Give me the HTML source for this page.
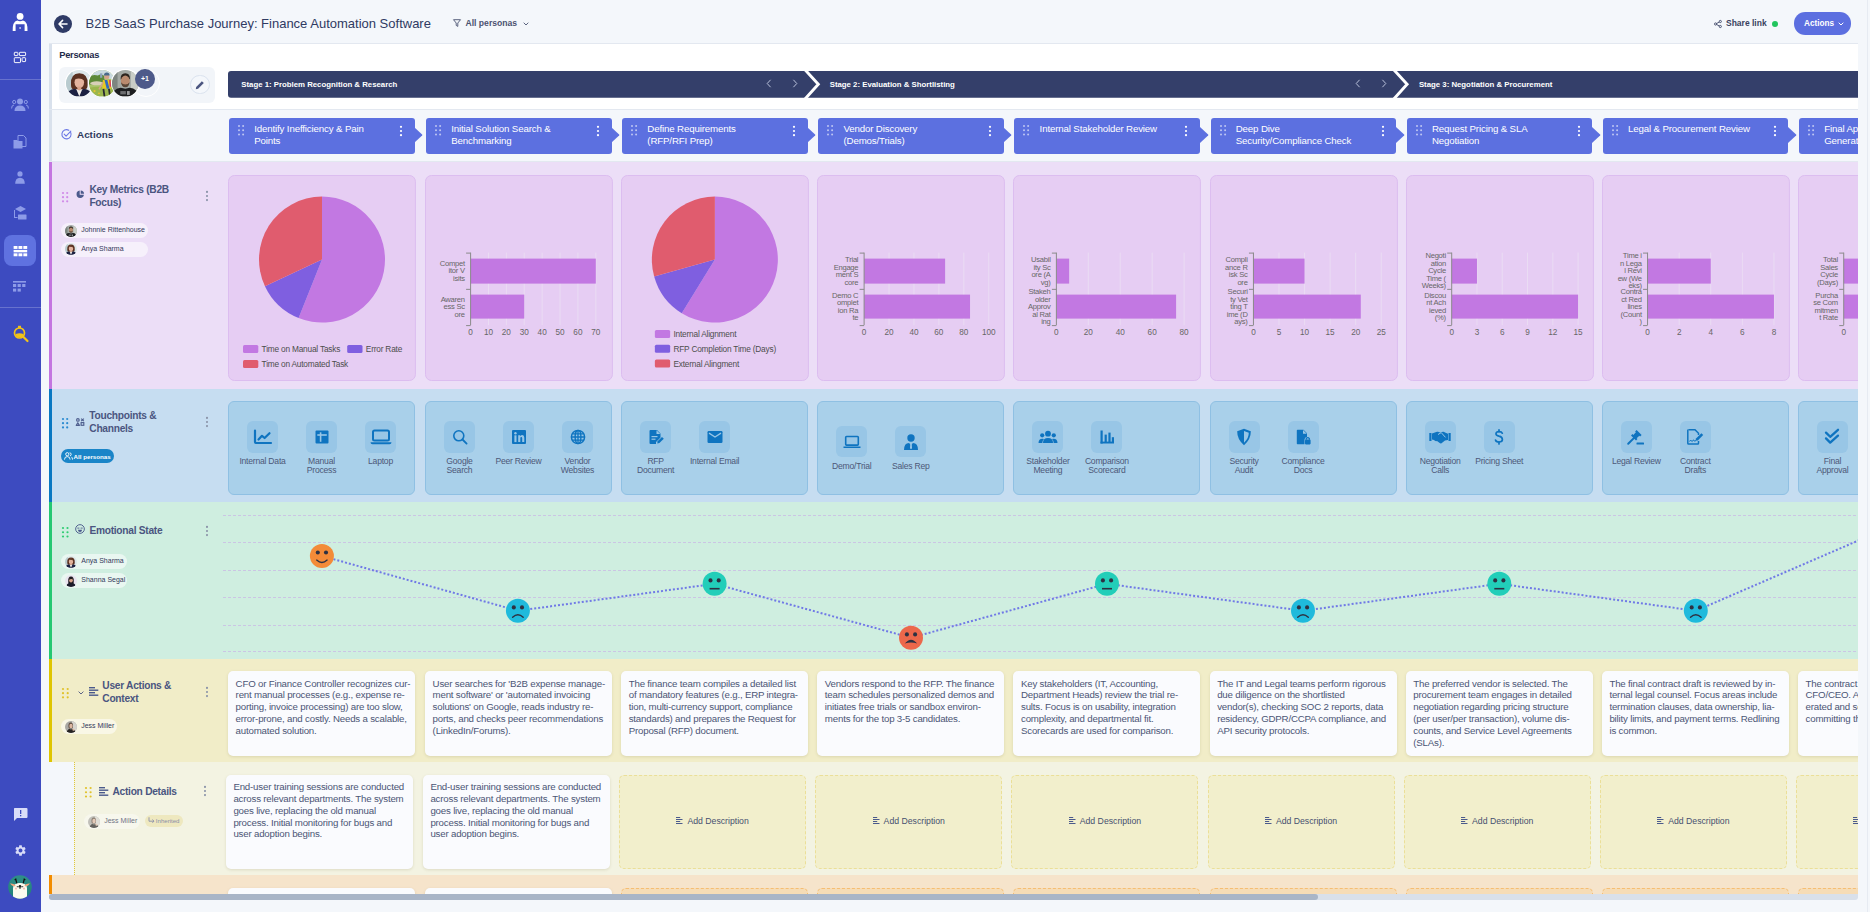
<!DOCTYPE html><html lang="en"><head><meta charset="utf-8"><title>B2B SaaS Purchase Journey</title><style>
*{box-sizing:border-box;margin:0;padding:0}
html,body{width:1870px;height:912px;overflow:hidden;background:#f4f7fb;font-family:"Liberation Sans",sans-serif;color:#3d4668}
.a{position:absolute}
#sb{left:0;top:0;width:41px;height:912px;background:#3d4bc0}
#board{left:0;top:0;width:1858px;height:894px;overflow:hidden}
.row{position:absolute;left:49px;width:1809px}
.acc{position:absolute;left:0;top:0;bottom:0;width:3px}
.t{position:absolute;white-space:nowrap}
svg{position:absolute;overflow:visible}
.ib svg{position:static;display:block}
.ac{position:absolute;top:118px;height:35.8px;width:185.6px;background:#5c70e0;border-radius:3px;color:#fff}
.ac .tt{position:absolute;left:25.2px;top:5px;font-size:9.7px;letter-spacing:-0.14px;line-height:12px;font-weight:500;white-space:nowrap}
.lbl{position:absolute;font-size:10.2px;letter-spacing:-0.27px;font-weight:700;color:#4a5580;line-height:12.8px;white-space:nowrap}
.chip{position:absolute;height:15px;border-radius:8px;background:rgba(255,255,255,.55);font-size:7px;color:#33385a;line-height:13.4px;padding-left:20px;white-space:nowrap}
.card{position:absolute;border-radius:6px}
.tp{position:absolute;width:55px;text-align:center;font-size:8.6px;letter-spacing:-0.23px;line-height:9px;color:#4d5878}
.tp .ib{width:31px;height:31.6px;margin:0 auto 4.4px;border-radius:6px;background:#98c6e6;position:relative}
.txc{position:absolute;background:#fafbfe;border-radius:5px;box-shadow:0 1px 3px rgba(120,110,60,.18);font-size:9.7px;letter-spacing:-0.19px;line-height:11.8px;color:#4b5575;padding:6.6px 0 0 7.6px;white-space:nowrap}
.add{position:absolute;border:1px dashed #ebdf98;background:#f2efcc;border-radius:5px;font-size:8.7px;font-weight:400;color:#46506f;display:flex;align-items:center;justify-content:center;padding-bottom:3px}
</style></head><body>
<div id="sb" class="a"></div>
<svg style="left:0;top:0" width="41" height="70" viewBox="0 0 41 70">
<circle cx="20.1" cy="16.4" r="3.4" fill="#ffffff"/>
<path d="M12.7 31 Q12.4 21.6 17.2 20.6 Q20.1 21.8 23 20.6 Q27.8 21.6 27.5 31 L24.6 31 L24.6 24.2 L15.6 24.2 L15.6 31 Z" fill="#ffffff"/>
<rect x="19.4" y="27.3" width="1.4" height="1.4" fill="#ffffff"/>
<g fill="none" stroke="#ffffff" stroke-width="0.95">
<rect x="14.3" y="52.3" width="3.6" height="3.3" rx="0.6"/><rect x="19.4" y="52.3" width="6.2" height="3.3" rx="0.6"/>
<rect x="14.3" y="57.7" width="6.2" height="4.9" rx="0.6"/><rect x="22.1" y="57.7" width="3.5" height="3.9" rx="0.6"/></g></svg>
<div class="a" style="left:0;top:79px;width:41px;height:1px;background:rgba(255,255,255,.22)"></div>
<svg style="left:11px;top:98px" width="18" height="14" viewBox="0 0 18 14" fill="#8d9be8">
<circle cx="9" cy="3.5" r="3"/><path d="M3.5 13 Q3.5 7.5 9 7.5 Q14.5 7.5 14.5 13 Z"/>
<circle cx="3.2" cy="4" r="1.6" fill="none" stroke="#8d9be8" stroke-width="1"/><circle cx="14.8" cy="4" r="1.6" fill="none" stroke="#8d9be8" stroke-width="1"/>
<path d="M0.6 10.5 Q0.6 7 3 7" fill="none" stroke="#8d9be8" stroke-width="1"/><path d="M17.4 10.5 Q17.4 7 15 7" fill="none" stroke="#8d9be8" stroke-width="1"/></svg>
<svg style="left:13px;top:135px" width="14" height="14" viewBox="0 0 14 14">
<path d="M5 0.5 H10.5 L13 3 V11.5 H5 Z" fill="none" stroke="#8d9be8" stroke-width="1"/>
<path d="M0.5 5 H4 L5 6 H9.5 V13.5 H0.5 Z" fill="#8d9be8"/></svg>
<svg style="left:15px;top:170.8px" width="10" height="13" viewBox="0 0 10 13" fill="#8d9be8">
<circle cx="5" cy="2.9" r="2.6"/><path d="M0.2 12.8 Q0.2 6.7 5 6.7 Q9.8 6.7 9.8 12.8 Z"/></svg>
<svg style="left:13px;top:206px" width="14" height="15" viewBox="0 0 14 15" fill="#8d9be8">
<path d="M7.5 0 L13 3 L7.5 6 L2 3 Z"/><path d="M1 4 V10 H2 V4 Z"/><rect x="5" y="8.5" width="8.5" height="5" rx="0.5"/><path d="M1 10 V12 H4.5 V11 H2 V10Z"/></svg>
<div class="a" style="left:4px;top:235px;width:32px;height:31px;background:#5f72e0;border-radius:8px"></div>
<svg style="left:13px;top:246px" width="15" height="11" viewBox="0 0 15 12" fill="#fff">
<rect x="0" y="0" width="4.2" height="3.2"/><rect x="5.3" y="0" width="4.2" height="3.2"/><rect x="10.6" y="0" width="4.2" height="3.2"/>
<rect x="0" y="4.3" width="14.8" height="2.6"/>
<rect x="0" y="8" width="4.2" height="3.2"/><rect x="5.3" y="8" width="4.2" height="3.2"/><rect x="10.6" y="8" width="4.2" height="3.2"/></svg>
<svg style="left:13px;top:281px" width="14" height="12" viewBox="0 0 14 12" fill="#8d9be8">
<rect x="0" y="0" width="13" height="1.6"/><rect x="0" y="3" width="3.2" height="3"/><rect x="4.6" y="3" width="3.2" height="3"/><rect x="9.2" y="3" width="3.2" height="3"/>
<rect x="0" y="7.6" width="3.2" height="3"/><rect x="4.6" y="7.6" width="3.2" height="3"/></svg>
<div class="a" style="left:0;top:307px;width:41px;height:1px;background:rgba(255,255,255,.22)"></div>
<svg style="left:13px;top:325px" width="16" height="17" viewBox="0 0 16 17">
<circle cx="6.5" cy="8" r="5" fill="none" stroke="#f2c318" stroke-width="1.7"/>
<path d="M2.6 9 Q6.5 7.5 10.4 9 Q10 12.5 6.5 12.6 Q3 12.5 2.6 9Z" fill="#f2c318"/>
<rect x="5" y="0.8" width="3" height="2.6" fill="#f2c318"/>
<path d="M10 11.5 L14.5 16" stroke="#f2c318" stroke-width="2.2" stroke-linecap="round"/></svg>
<svg style="left:13px;top:807px" width="15" height="15" viewBox="0 0 15 15">
<path d="M1.5 1 H13.5 Q14.5 1 14.5 2 V10 Q14.5 11 13.5 11 H4 L1 14 V2 Q1 1 1.5 1Z" fill="#d9ddf8"/>
<rect x="7" y="3" width="1.3" height="4" fill="#3d4bc0"/><rect x="7" y="8" width="1.3" height="1.3" fill="#3d4bc0"/></svg>
<svg style="left:14px;top:844px" width="13" height="13" viewBox="0 0 24 24">
<path fill="#d9ddf8" d="M19.14 12.94c.04-.3.06-.61.06-.94 0-.32-.02-.64-.07-.94l2.03-1.58a.49.49 0 0 0 .12-.61l-1.92-3.32a.488.488 0 0 0-.59-.22l-2.39.96c-.5-.38-1.03-.7-1.62-.94l-.36-2.54a.484.484 0 0 0-.48-.41h-3.84c-.24 0-.43.17-.47.41l-.36 2.54c-.59.24-1.13.57-1.62.94l-2.39-.96c-.22-.08-.47 0-.59.22L2.74 8.87c-.12.21-.08.47.12.61l2.03 1.58c-.05.3-.09.63-.09.94s.02.64.07.94l-2.03 1.58a.49.49 0 0 0-.12.61l1.92 3.32c.12.22.37.29.59.22l2.39-.96c.5.38 1.03.7 1.62.94l.36 2.54c.05.24.24.41.48.41h3.84c.24 0 .44-.17.47-.41l.36-2.54c.59-.24 1.13-.56 1.62-.94l2.39.96c.22.08.47 0 .59-.22l1.92-3.32c.12-.22.07-.47-.12-.61l-2.01-1.58zM12 15.6c-1.98 0-3.6-1.62-3.6-3.6s1.62-3.6 3.6-3.6 3.6 1.62 3.6 3.6-1.62 3.6-3.6 3.6z"/></svg>
<svg style="left:8.2px;top:875px" width="24" height="24" viewBox="0 0 24 24">
<defs><clipPath id="llc"><circle cx="12" cy="12" r="11.8"/></clipPath><linearGradient id="llg" x1="0" y1="0" x2="0" y2="1"><stop offset="0" stop-color="#2f8f88"/><stop offset="1" stop-color="#1f7f78"/></linearGradient></defs>
<g clip-path="url(#llc)"><rect width="24" height="24" fill="url(#llg)"/>
<path d="M5 24 V13.5 Q5 8 12 8 Q19 8 19 13.5 V24Z" fill="#fbfbef"/>
<path d="M2 8.6 Q5 8.2 7.6 10.2 L6.5 11.4 Q3.6 11 2 8.6Z" fill="#f4a77f"/><path d="M22 8.6 Q19 8.2 16.4 10.2 L17.5 11.4 Q20.4 11 22 8.6Z" fill="#f4a77f"/>
<path d="M7.6 3.6 L8.8 8.4 M6.6 4.6 L8.4 4.2" stroke="#111" stroke-width="1.3" fill="none"/><path d="M16.4 3.6 L15.2 8.4 M17.4 4.6 L15.6 4.2" stroke="#111" stroke-width="1.3" fill="none"/>
<path d="M8.8 11.6 L10.6 11.9 M15.2 11.6 L13.4 11.9" stroke="#222" stroke-width="0.9"/>
<circle cx="12" cy="11.3" r="1.3" fill="#222"/><rect x="11.3" y="11.8" width="1.4" height="2" fill="#3a4a44"/>
<circle cx="8" cy="13.6" r="1.1" fill="#f6c0b6"/><circle cx="16" cy="13.6" r="1.1" fill="#f6c0b6"/></g></svg>
<svg style="left:54px;top:14.5px" width="18" height="18" viewBox="0 0 18 18">
<circle cx="9" cy="9" r="9" fill="#2f3b66"/>
<path d="M13 9 H5.2 M8.6 5.4 L5 9 L8.6 12.6" stroke="#fff" stroke-width="1.5" fill="none" stroke-linecap="round" stroke-linejoin="round"/></svg>
<div class="t" style="left:85.5px;top:15.5px;font-size:13px;line-height:15px;color:#2f3a62;font-weight:400">B2B SaaS Purchase Journey: Finance Automation Software</div>
<svg style="left:453px;top:19px" width="8" height="8" viewBox="0 0 8 8"><path d="M0.5 0.7 H7.5 L4.8 4 V7.4 L3.2 6.4 V4 Z" fill="none" stroke="#4a5270" stroke-width="0.9" stroke-linejoin="round"/></svg>
<div class="t" style="left:465.5px;top:18px;font-size:8.6px;line-height:10px;color:#4a5270;font-weight:700">All personas</div>
<svg style="left:522.5px;top:21.5px" width="6" height="4" viewBox="0 0 6 4"><path d="M0.7 0.7 L3 3 L5.3 0.7" fill="none" stroke="#4a5270" stroke-width="0.9"/></svg>
<svg style="left:1714px;top:19.5px" width="8" height="8" viewBox="0 0 8 8" fill="none" stroke="#3d4668" stroke-width="0.9">
<circle cx="6.3" cy="1.5" r="1.1"/><circle cx="1.6" cy="4" r="1.1"/><circle cx="6.3" cy="6.5" r="1.1"/><path d="M2.6 3.5 L5.3 2 M2.6 4.5 L5.3 6"/></svg>
<div class="t" style="left:1726px;top:18.3px;font-size:8.5px;line-height:10px;color:#3a4260;font-weight:700">Share link</div>
<div class="a" style="left:1771.8px;top:20.7px;width:6.2px;height:6.2px;border-radius:50%;background:#22c55e"></div>
<div class="a" style="left:1794px;top:12.2px;width:57px;height:22.4px;border-radius:11.2px;background:#5c6fe0"></div>
<div class="t" style="left:1804px;top:19.2px;font-size:8.2px;line-height:10px;color:#fff;font-weight:700">Actions</div>
<svg style="left:1838px;top:21.5px" width="6" height="4" viewBox="0 0 6 4"><path d="M0.7 0.7 L3 3 L5.3 0.7" fill="none" stroke="#fff" stroke-width="1"/></svg>
<div id="board" class="a">
<div class="row" style="top:43px;height:66px;background:#fff;border-top:1px solid #e3e8f0"><div class="acc" style="background:#d9e1ec"></div></div>
<div class="row" style="top:109px;height:53px;background:#f4f7fb;border-top:1px solid #e3e8f0;border-bottom:1px solid #e3e8f0"><div class="acc" style="background:#d9e1ec"></div></div>
<div class="row" style="top:162px;height:227px;background:#ecdef7"><div class="acc" style="background:#c475e0"></div></div>
<div class="row" style="top:389px;height:113px;background:#c6ddf1"><div class="acc" style="background:#0a78c2"></div></div>
<div class="row" style="top:502px;height:157px;background:#cfeee0"><div class="acc" style="background:#25c872"></div></div>
<div class="row" style="top:659px;height:103px;background:#f1edc8"><div class="acc" style="background:#dfc500"></div></div>
<div class="row" style="top:762px;height:113px;background:#f4f7fb"><div class="a" style="left:25px;top:0;bottom:0;right:0;background:#f3f3e2;border-left:1px dotted #e0c83a"></div></div>
<div class="row" style="top:875px;height:30px;background:#f6e4cb"><div class="acc" style="background:#f28c00"></div></div>
<div class="t" style="left:59.2px;top:49.6px;font-size:9.3px;letter-spacing:-0.25px;line-height:11px;font-weight:700;color:#1e2a4a">Personas</div>
<div class="a" style="left:59px;top:67px;width:156px;height:36px;border-radius:6px;background:#f2f5f9"></div>
<div class="a" style="left:131.8px;top:69.2px;width:28px;height:28px;border-radius:50%;border:1.5px solid #ffffff"></div>
<div class="a" style="left:64.89999999999999px;top:68.7px;width:28.4px;height:28.4px;border-radius:50%;background:#fff"></div>
<svg style="left:65.8px;top:69.6px" width="26.6" height="26.6"><defs><clipPath id="cwoman1266"><circle cx="12" cy="12" r="12"/></clipPath></defs><g transform="scale(1.1083333333333334)"><g clip-path="url(#cwoman1266)"><rect width="24" height="24" fill="#dde7e9"/><rect width="6" height="24" fill="#b9cbcf"/>
<path d="M4.5 13 Q4 3.2 12 3 Q20 3.2 19.5 13 Q19.6 16.5 17.5 17.5 L6.5 17.5 Q4.4 16.5 4.5 13Z" fill="#5a3121"/>
<ellipse cx="12" cy="11" rx="4.3" ry="5.4" fill="#e3b49e"/>
<path d="M7.8 8.5 Q9 4.6 13.5 5 Q16.5 5.8 16.4 9.5 Q13 6.5 7.8 8.5Z" fill="#5a3121"/>
<rect x="10.3" y="15" width="3.4" height="3.5" fill="#d9a48c"/>
<path d="M0 24 Q1.5 17.5 8 17 L12 19 L16 17 Q22.5 17.5 24 24Z" fill="#1c2142"/>
<path d="M9.2 17.2 L12 24 L14.8 17.2 L12 18.6Z" fill="#f1ede8"/></g></g></svg>
<div class="a" style="left:88.1px;top:68.7px;width:28.4px;height:28.4px;border-radius:50%;background:#fff"></div>
<svg style="left:89.0px;top:69.6px" width="26.6" height="26.6"><defs><clipPath id="ccyclist266"><circle cx="12" cy="12" r="12"/></clipPath></defs><g transform="scale(1.1083333333333334)"><g clip-path="url(#ccyclist266)"><rect width="24" height="24" fill="#a9c46a"/><rect width="24" height="8" fill="#c9d9df"/>
<path d="M0 6 Q4 3.5 8 5 Q11 3 14 5.5 L14 13 L0 13Z" fill="#5d8a38"/><rect x="10" y="3" width="2" height="4" fill="#8da3b8"/>
<ellipse cx="7" cy="12" rx="6" ry="1.8" fill="#d8d0b8"/>
<path d="M0 16 Q8 14 24 16 V24 H0Z" fill="#9bb64e"/><circle cx="5" cy="19" r="1" fill="#e8c430"/><circle cx="9" cy="21" r="0.8" fill="#e8c430"/>
<circle cx="16" cy="6" r="2.3" fill="#d4a48a"/><path d="M13.4 5 Q13.6 2.2 16 2.2 Q18.6 2.2 18.6 5Z" fill="#4a6a8a"/>
<path d="M12.5 9 L19.5 9 L20 17 L12 17Z" fill="#e8c820"/><path d="M14 9 L16.5 9 L18.5 17 L16 17Z" fill="#2f6ac0"/><path d="M18.2 9 L19.5 9 L20 15 L18.6 15Z" fill="#d83860"/>
<path d="M12.8 11 L9 17.5" stroke="#d4a48a" stroke-width="1.3"/>
<path d="M13 17 L14 24 M18 17 L19 24" stroke="#2a2a30" stroke-width="1.6"/></g></g></svg>
<div class="a" style="left:111.2px;top:68.7px;width:28.4px;height:28.4px;border-radius:50%;background:#fff"></div>
<svg style="left:112.10000000000001px;top:69.6px" width="26.6" height="26.6"><defs><clipPath id="cman1266"><circle cx="12" cy="12" r="12"/></clipPath></defs><g transform="scale(1.1083333333333334)"><g clip-path="url(#cman1266)"><rect width="24" height="24" fill="#a3a9a4"/><rect width="5" height="24" fill="#7d8580"/><rect x="17" width="7" height="24" fill="#c9cdc6"/>
<path d="M7.8 8.5 Q7.5 3 12 3 Q16.5 3 16.2 8.5 Q14 6.5 7.8 8.5Z" fill="#2c241d"/>
<ellipse cx="12" cy="10" rx="4" ry="5" fill="#b98a6e"/>
<path d="M8.2 11 Q8.5 15.5 12 15.6 Q15.5 15.5 15.8 11 Q14.5 13 12 13 Q9.5 13 8.2 11Z" fill="#5a4536"/>
<path d="M0 24 Q1 16.5 8 16 L12 17 L16 16 Q23 16.5 24 24Z" fill="#1d1e20"/>
<rect x="7.5" y="19" width="5" height="3" fill="#6d6e70"/><rect x="13.5" y="19" width="2.5" height="3.5" fill="#9a9b9d"/></g></g></svg>
<div class="a" style="left:135.1px;top:69.1px;width:19.8px;height:19.8px;border-radius:50%;background:#4e5a8a;color:#fff;font-size:7px;font-weight:700;line-height:19.8px;text-align:center">+1</div>
<div class="a" style="left:190.4px;top:75px;width:19.2px;height:19.2px;border-radius:50%;border:1px solid #dbe3ef;background:#f4f7fb"></div>
<svg style="left:195.2px;top:79.6px" width="10" height="10" viewBox="0 0 10 10"><path d="M0.8 9.2 L1.2 6.9 L6.9 1.2 L8.8 3.1 L3.1 8.8 Z" fill="#4b5580"/></svg>
<svg style="left:0;top:0" width="1870" height="110"><path d="M231 71 H1858 V97.7 H231 Q228 97.7 228 94.7 V74 Q228 71 231 71Z" fill="#343f6a"/><path d="M804.8 69.5 L818.3 84.35 L804.8 99.2" fill="none" stroke="#fff" stroke-width="2.9"/><path d="M1393.6 69.5 L1407.1 84.35 L1393.6 99.2" fill="none" stroke="#fff" stroke-width="2.9"/></svg>
<div class="t" style="left:241.3px;top:79.5px;font-size:7.8px;line-height:9px;font-weight:700;color:#fff">Stage 1: Problem Recognition &amp; Research</div>
<div class="t" style="left:829.7px;top:79.5px;font-size:7.8px;line-height:9px;font-weight:700;color:#fff">Stage 2: Evaluation &amp; Shortlisting</div>
<div class="t" style="left:1418.9px;top:79.5px;font-size:7.8px;line-height:9px;font-weight:700;color:#fff">Stage 3: Negotiation &amp; Procurement</div>
<svg style="left:766px;top:79px" width="6" height="9" viewBox="0 0 6 9"><path d="M4.6 0.8 L1.2 4.5 L4.6 8.2" fill="none" stroke="#b9c1da" stroke-width="1"/></svg>
<svg style="left:792px;top:79px" width="6" height="9" viewBox="0 0 6 9"><path d="M1.4 0.8 L4.8 4.5 L1.4 8.2" fill="none" stroke="#b9c1da" stroke-width="1"/></svg>
<svg style="left:1355px;top:79px" width="6" height="9" viewBox="0 0 6 9"><path d="M4.6 0.8 L1.2 4.5 L4.6 8.2" fill="none" stroke="#b9c1da" stroke-width="1"/></svg>
<svg style="left:1381px;top:79px" width="6" height="9" viewBox="0 0 6 9"><path d="M1.4 0.8 L4.8 4.5 L1.4 8.2" fill="none" stroke="#b9c1da" stroke-width="1"/></svg>
<svg style="left:61px;top:129px" width="11" height="11" viewBox="0 0 11 11"><path d="M9.6 3.2 A4.6 4.6 0 1 1 7.8 1.3" fill="none" stroke="#6b78e5" stroke-width="1.1" stroke-linecap="round"/><path d="M3.2 5.2 L5.1 7.1 L9.8 2.2" fill="none" stroke="#6b78e5" stroke-width="1.1" stroke-linecap="round" stroke-linejoin="round"/></svg>
<div class="t" style="left:77px;top:128px;font-size:9.9px;line-height:13px;font-weight:700;color:#2f3a5e">Actions</div>
<div class="ac" style="left:229px"><div class="tt">Identify Inefficiency &amp; Pain<br>Points</div></div>
<svg style="left:414.1px;top:127.1px" width="9" height="16" viewBox="0 0 9 16"><path d="M0 0 L8.1 7.4 Q8.6 8 8.1 8.6 L0 16Z" fill="#5c70e0"/></svg>
<svg style="left:238px;top:125px" width="10" height="12"><circle cx="1.0" cy="1.0" r="1.0" fill="rgba(255,255,255,.6)"/><circle cx="5.1" cy="1.0" r="1.0" fill="rgba(255,255,255,.6)"/><circle cx="1.0" cy="5.2" r="1.0" fill="rgba(255,255,255,.6)"/><circle cx="5.1" cy="5.2" r="1.0" fill="rgba(255,255,255,.6)"/><circle cx="1.0" cy="9.4" r="1.0" fill="rgba(255,255,255,.6)"/><circle cx="5.1" cy="9.4" r="1.0" fill="rgba(255,255,255,.6)"/></svg>
<svg style="left:399px;top:125px" width="4" height="12"><circle cx="2" cy="1.7999999999999998" r="1.1" fill="#ffffff"/><circle cx="2" cy="6.0" r="1.1" fill="#ffffff"/><circle cx="2" cy="10.2" r="1.1" fill="#ffffff"/></svg>
<div class="ac" style="left:426.0px"><div class="tt">Initial Solution Search &amp;<br>Benchmarking</div></div>
<svg style="left:611.1px;top:127.1px" width="9" height="16" viewBox="0 0 9 16"><path d="M0 0 L8.1 7.4 Q8.6 8 8.1 8.6 L0 16Z" fill="#5c70e0"/></svg>
<svg style="left:435.0px;top:125px" width="10" height="12"><circle cx="1.0" cy="1.0" r="1.0" fill="rgba(255,255,255,.6)"/><circle cx="5.1" cy="1.0" r="1.0" fill="rgba(255,255,255,.6)"/><circle cx="1.0" cy="5.2" r="1.0" fill="rgba(255,255,255,.6)"/><circle cx="5.1" cy="5.2" r="1.0" fill="rgba(255,255,255,.6)"/><circle cx="1.0" cy="9.4" r="1.0" fill="rgba(255,255,255,.6)"/><circle cx="5.1" cy="9.4" r="1.0" fill="rgba(255,255,255,.6)"/></svg>
<svg style="left:596.0px;top:125px" width="4" height="12"><circle cx="2" cy="1.7999999999999998" r="1.1" fill="#ffffff"/><circle cx="2" cy="6.0" r="1.1" fill="#ffffff"/><circle cx="2" cy="10.2" r="1.1" fill="#ffffff"/></svg>
<div class="ac" style="left:622.14px"><div class="tt">Define Requirements<br>(RFP/RFI Prep)</div></div>
<svg style="left:807.24px;top:127.1px" width="9" height="16" viewBox="0 0 9 16"><path d="M0 0 L8.1 7.4 Q8.6 8 8.1 8.6 L0 16Z" fill="#5c70e0"/></svg>
<svg style="left:631.14px;top:125px" width="10" height="12"><circle cx="1.0" cy="1.0" r="1.0" fill="rgba(255,255,255,.6)"/><circle cx="5.1" cy="1.0" r="1.0" fill="rgba(255,255,255,.6)"/><circle cx="1.0" cy="5.2" r="1.0" fill="rgba(255,255,255,.6)"/><circle cx="5.1" cy="5.2" r="1.0" fill="rgba(255,255,255,.6)"/><circle cx="1.0" cy="9.4" r="1.0" fill="rgba(255,255,255,.6)"/><circle cx="5.1" cy="9.4" r="1.0" fill="rgba(255,255,255,.6)"/></svg>
<svg style="left:792.14px;top:125px" width="4" height="12"><circle cx="2" cy="1.7999999999999998" r="1.1" fill="#ffffff"/><circle cx="2" cy="6.0" r="1.1" fill="#ffffff"/><circle cx="2" cy="10.2" r="1.1" fill="#ffffff"/></svg>
<div class="ac" style="left:818.28px"><div class="tt">Vendor Discovery<br>(Demos/Trials)</div></div>
<svg style="left:1003.38px;top:127.1px" width="9" height="16" viewBox="0 0 9 16"><path d="M0 0 L8.1 7.4 Q8.6 8 8.1 8.6 L0 16Z" fill="#5c70e0"/></svg>
<svg style="left:827.28px;top:125px" width="10" height="12"><circle cx="1.0" cy="1.0" r="1.0" fill="rgba(255,255,255,.6)"/><circle cx="5.1" cy="1.0" r="1.0" fill="rgba(255,255,255,.6)"/><circle cx="1.0" cy="5.2" r="1.0" fill="rgba(255,255,255,.6)"/><circle cx="5.1" cy="5.2" r="1.0" fill="rgba(255,255,255,.6)"/><circle cx="1.0" cy="9.4" r="1.0" fill="rgba(255,255,255,.6)"/><circle cx="5.1" cy="9.4" r="1.0" fill="rgba(255,255,255,.6)"/></svg>
<svg style="left:988.28px;top:125px" width="4" height="12"><circle cx="2" cy="1.7999999999999998" r="1.1" fill="#ffffff"/><circle cx="2" cy="6.0" r="1.1" fill="#ffffff"/><circle cx="2" cy="10.2" r="1.1" fill="#ffffff"/></svg>
<div class="ac" style="left:1014.42px"><div class="tt">Internal Stakeholder Review<br></div></div>
<svg style="left:1199.52px;top:127.1px" width="9" height="16" viewBox="0 0 9 16"><path d="M0 0 L8.1 7.4 Q8.6 8 8.1 8.6 L0 16Z" fill="#5c70e0"/></svg>
<svg style="left:1023.42px;top:125px" width="10" height="12"><circle cx="1.0" cy="1.0" r="1.0" fill="rgba(255,255,255,.6)"/><circle cx="5.1" cy="1.0" r="1.0" fill="rgba(255,255,255,.6)"/><circle cx="1.0" cy="5.2" r="1.0" fill="rgba(255,255,255,.6)"/><circle cx="5.1" cy="5.2" r="1.0" fill="rgba(255,255,255,.6)"/><circle cx="1.0" cy="9.4" r="1.0" fill="rgba(255,255,255,.6)"/><circle cx="5.1" cy="9.4" r="1.0" fill="rgba(255,255,255,.6)"/></svg>
<svg style="left:1184.42px;top:125px" width="4" height="12"><circle cx="2" cy="1.7999999999999998" r="1.1" fill="#ffffff"/><circle cx="2" cy="6.0" r="1.1" fill="#ffffff"/><circle cx="2" cy="10.2" r="1.1" fill="#ffffff"/></svg>
<div class="ac" style="left:1210.56px"><div class="tt">Deep Dive<br>Security/Compliance Check</div></div>
<svg style="left:1395.6599999999999px;top:127.1px" width="9" height="16" viewBox="0 0 9 16"><path d="M0 0 L8.1 7.4 Q8.6 8 8.1 8.6 L0 16Z" fill="#5c70e0"/></svg>
<svg style="left:1219.56px;top:125px" width="10" height="12"><circle cx="1.0" cy="1.0" r="1.0" fill="rgba(255,255,255,.6)"/><circle cx="5.1" cy="1.0" r="1.0" fill="rgba(255,255,255,.6)"/><circle cx="1.0" cy="5.2" r="1.0" fill="rgba(255,255,255,.6)"/><circle cx="5.1" cy="5.2" r="1.0" fill="rgba(255,255,255,.6)"/><circle cx="1.0" cy="9.4" r="1.0" fill="rgba(255,255,255,.6)"/><circle cx="5.1" cy="9.4" r="1.0" fill="rgba(255,255,255,.6)"/></svg>
<svg style="left:1380.56px;top:125px" width="4" height="12"><circle cx="2" cy="1.7999999999999998" r="1.1" fill="#ffffff"/><circle cx="2" cy="6.0" r="1.1" fill="#ffffff"/><circle cx="2" cy="10.2" r="1.1" fill="#ffffff"/></svg>
<div class="ac" style="left:1406.6999999999998px"><div class="tt">Request Pricing &amp; SLA<br>Negotiation</div></div>
<svg style="left:1591.7999999999997px;top:127.1px" width="9" height="16" viewBox="0 0 9 16"><path d="M0 0 L8.1 7.4 Q8.6 8 8.1 8.6 L0 16Z" fill="#5c70e0"/></svg>
<svg style="left:1415.6999999999998px;top:125px" width="10" height="12"><circle cx="1.0" cy="1.0" r="1.0" fill="rgba(255,255,255,.6)"/><circle cx="5.1" cy="1.0" r="1.0" fill="rgba(255,255,255,.6)"/><circle cx="1.0" cy="5.2" r="1.0" fill="rgba(255,255,255,.6)"/><circle cx="5.1" cy="5.2" r="1.0" fill="rgba(255,255,255,.6)"/><circle cx="1.0" cy="9.4" r="1.0" fill="rgba(255,255,255,.6)"/><circle cx="5.1" cy="9.4" r="1.0" fill="rgba(255,255,255,.6)"/></svg>
<svg style="left:1576.6999999999998px;top:125px" width="4" height="12"><circle cx="2" cy="1.7999999999999998" r="1.1" fill="#ffffff"/><circle cx="2" cy="6.0" r="1.1" fill="#ffffff"/><circle cx="2" cy="10.2" r="1.1" fill="#ffffff"/></svg>
<div class="ac" style="left:1602.84px"><div class="tt">Legal &amp; Procurement Review<br></div></div>
<svg style="left:1787.9399999999998px;top:127.1px" width="9" height="16" viewBox="0 0 9 16"><path d="M0 0 L8.1 7.4 Q8.6 8 8.1 8.6 L0 16Z" fill="#5c70e0"/></svg>
<svg style="left:1611.84px;top:125px" width="10" height="12"><circle cx="1.0" cy="1.0" r="1.0" fill="rgba(255,255,255,.6)"/><circle cx="5.1" cy="1.0" r="1.0" fill="rgba(255,255,255,.6)"/><circle cx="1.0" cy="5.2" r="1.0" fill="rgba(255,255,255,.6)"/><circle cx="5.1" cy="5.2" r="1.0" fill="rgba(255,255,255,.6)"/><circle cx="1.0" cy="9.4" r="1.0" fill="rgba(255,255,255,.6)"/><circle cx="5.1" cy="9.4" r="1.0" fill="rgba(255,255,255,.6)"/></svg>
<svg style="left:1772.84px;top:125px" width="4" height="12"><circle cx="2" cy="1.7999999999999998" r="1.1" fill="#ffffff"/><circle cx="2" cy="6.0" r="1.1" fill="#ffffff"/><circle cx="2" cy="10.2" r="1.1" fill="#ffffff"/></svg>
<div class="ac" style="left:1798.98px"><div class="tt">Final Approval &amp; PO<br>Generation</div></div>
<svg style="left:1984.08px;top:127.1px" width="9" height="16" viewBox="0 0 9 16"><path d="M0 0 L8.1 7.4 Q8.6 8 8.1 8.6 L0 16Z" fill="#5c70e0"/></svg>
<svg style="left:1807.98px;top:125px" width="10" height="12"><circle cx="1.0" cy="1.0" r="1.0" fill="rgba(255,255,255,.6)"/><circle cx="5.1" cy="1.0" r="1.0" fill="rgba(255,255,255,.6)"/><circle cx="1.0" cy="5.2" r="1.0" fill="rgba(255,255,255,.6)"/><circle cx="5.1" cy="5.2" r="1.0" fill="rgba(255,255,255,.6)"/><circle cx="1.0" cy="9.4" r="1.0" fill="rgba(255,255,255,.6)"/><circle cx="5.1" cy="9.4" r="1.0" fill="rgba(255,255,255,.6)"/></svg>
<svg style="left:1968.98px;top:125px" width="4" height="12"><circle cx="2" cy="1.7999999999999998" r="1.1" fill="#ffffff"/><circle cx="2" cy="6.0" r="1.1" fill="#ffffff"/><circle cx="2" cy="10.2" r="1.1" fill="#ffffff"/></svg>
<svg style="left:62px;top:192px" width="10" height="12"><circle cx="1.0" cy="1.0" r="1.1" fill="#d08ae8"/><circle cx="5.2" cy="1.0" r="1.1" fill="#d08ae8"/><circle cx="1.0" cy="5.15" r="1.1" fill="#d08ae8"/><circle cx="5.2" cy="5.15" r="1.1" fill="#d08ae8"/><circle cx="1.0" cy="9.3" r="1.1" fill="#d08ae8"/><circle cx="5.2" cy="9.3" r="1.1" fill="#d08ae8"/></svg>
<svg style="left:76.2px;top:190.4px" width="8.5" height="8.5" viewBox="0 0 8.5 8.5"><path d="M3.7 0.6 A3.7 3.7 0 1 0 7.9 4.8 L3.7 4.8Z" fill="#4b5a8c"/><path d="M4.7 0.4 A3.6 3.6 0 0 1 8.1 3.8 L4.7 3.8Z" fill="#4b5a8c"/></svg>
<div class="lbl" style="left:89.4px;top:183.8px">Key Metrics (B2B<br>Focus)</div>
<svg style="left:205.4px;top:190.2px" width="4" height="12"><circle cx="2" cy="1.9000000000000004" r="1.05" fill="#8a93a8"/><circle cx="2" cy="6.0" r="1.05" fill="#8a93a8"/><circle cx="2" cy="10.1" r="1.05" fill="#8a93a8"/></svg>
<div class="chip" style="left:61.2px;top:223px;width:86.5px;background:rgba(255,255,255,.55);opacity:1.0">Johnnie Rittenhouse</div>
<div style="position:absolute;left:64.7px;top:224.5px;opacity:1.0"><svg style="left:0;top:0" width="12" height="12"><defs><clipPath id="cman1120"><circle cx="12" cy="12" r="12"/></clipPath></defs><g transform="scale(0.5)"><g clip-path="url(#cman1120)"><rect width="24" height="24" fill="#a3a9a4"/><rect width="5" height="24" fill="#7d8580"/><rect x="17" width="7" height="24" fill="#c9cdc6"/>
<path d="M7.8 8.5 Q7.5 3 12 3 Q16.5 3 16.2 8.5 Q14 6.5 7.8 8.5Z" fill="#2c241d"/>
<ellipse cx="12" cy="10" rx="4" ry="5" fill="#b98a6e"/>
<path d="M8.2 11 Q8.5 15.5 12 15.6 Q15.5 15.5 15.8 11 Q14.5 13 12 13 Q9.5 13 8.2 11Z" fill="#5a4536"/>
<path d="M0 24 Q1 16.5 8 16 L12 17 L16 16 Q23 16.5 24 24Z" fill="#1d1e20"/>
<rect x="7.5" y="19" width="5" height="3" fill="#6d6e70"/><rect x="13.5" y="19" width="2.5" height="3.5" fill="#9a9b9d"/></g></g></svg></div>
<div class="chip" style="left:61.2px;top:241.8px;width:86.5px;background:rgba(255,255,255,.55);opacity:1.0">Anya Sharma</div>
<div style="position:absolute;left:64.7px;top:243.3px;opacity:1.0"><svg style="left:0;top:0" width="12" height="12"><defs><clipPath id="cwoman1120"><circle cx="12" cy="12" r="12"/></clipPath></defs><g transform="scale(0.5)"><g clip-path="url(#cwoman1120)"><rect width="24" height="24" fill="#dde7e9"/><rect width="6" height="24" fill="#b9cbcf"/>
<path d="M4.5 13 Q4 3.2 12 3 Q20 3.2 19.5 13 Q19.6 16.5 17.5 17.5 L6.5 17.5 Q4.4 16.5 4.5 13Z" fill="#5a3121"/>
<ellipse cx="12" cy="11" rx="4.3" ry="5.4" fill="#e3b49e"/>
<path d="M7.8 8.5 Q9 4.6 13.5 5 Q16.5 5.8 16.4 9.5 Q13 6.5 7.8 8.5Z" fill="#5a3121"/>
<rect x="10.3" y="15" width="3.4" height="3.5" fill="#d9a48c"/>
<path d="M0 24 Q1.5 17.5 8 17 L12 19 L16 17 Q22.5 17.5 24 24Z" fill="#1c2142"/>
<path d="M9.2 17.2 L12 24 L14.8 17.2 L12 18.6Z" fill="#f1ede8"/></g></g></svg></div>
<svg style="left:228px;top:175.4px" width="188" height="206"><rect x="0.5" y="0.5" width="186.9" height="205" rx="6" fill="#e6cdf3" stroke="#dcbdf0" stroke-width="1"/><path d="M94 84.6 L94.00 21.60 A63 63 0 1 1 70.60 143.09 Z" fill="#c278e2"/><path d="M94 84.6 L70.60 143.09 A63 63 0 0 1 36.95 111.32 Z" fill="#7f5fe0"/><path d="M94 84.6 L36.95 111.32 A63 63 0 0 1 94.00 21.60 Z" fill="#e05c6e"/><rect x="15" y="170.1" width="15.3" height="8" rx="1.5" fill="#c278e2"/><text x="33.6" y="177.2" font-size="8.3" fill="#4d4d4d" letter-spacing="-0.2" font-family="Liberation Sans">Time on Manual Tasks</text><rect x="119.2" y="170.1" width="15.3" height="8" rx="1.5" fill="#7f5fe0"/><text x="137.8" y="177.2" font-size="8.3" fill="#4d4d4d" letter-spacing="-0.2" font-family="Liberation Sans">Error Rate</text><rect x="15" y="185.1" width="15.3" height="8" rx="1.5" fill="#e05c6e"/><text x="33.6" y="192.2" font-size="8.3" fill="#4d4d4d" letter-spacing="-0.2" font-family="Liberation Sans">Time on Automated Task</text></svg>
<svg style="left:425.0px;top:175.4px" width="188" height="206"><rect x="0.5" y="0.5" width="186.9" height="205" rx="6" fill="#e6cdf3" stroke="#dcbdf0" stroke-width="1"/><text x="45.60" y="160.1" font-size="8.2" fill="#666666" text-anchor="middle" font-family="Liberation Sans">0</text><line x1="63.49" y1="77.6" x2="63.49" y2="150.1" stroke="#eadcf3" stroke-width="1"/><text x="63.49" y="160.1" font-size="8.2" fill="#666666" text-anchor="middle" font-family="Liberation Sans">10</text><line x1="81.37" y1="77.6" x2="81.37" y2="150.1" stroke="#eadcf3" stroke-width="1"/><text x="81.37" y="160.1" font-size="8.2" fill="#666666" text-anchor="middle" font-family="Liberation Sans">20</text><line x1="99.26" y1="77.6" x2="99.26" y2="150.1" stroke="#eadcf3" stroke-width="1"/><text x="99.26" y="160.1" font-size="8.2" fill="#666666" text-anchor="middle" font-family="Liberation Sans">30</text><line x1="117.14" y1="77.6" x2="117.14" y2="150.1" stroke="#eadcf3" stroke-width="1"/><text x="117.14" y="160.1" font-size="8.2" fill="#666666" text-anchor="middle" font-family="Liberation Sans">40</text><line x1="135.03" y1="77.6" x2="135.03" y2="150.1" stroke="#eadcf3" stroke-width="1"/><text x="135.03" y="160.1" font-size="8.2" fill="#666666" text-anchor="middle" font-family="Liberation Sans">50</text><line x1="152.91" y1="77.6" x2="152.91" y2="150.1" stroke="#eadcf3" stroke-width="1"/><text x="152.91" y="160.1" font-size="8.2" fill="#666666" text-anchor="middle" font-family="Liberation Sans">60</text><line x1="170.80" y1="77.6" x2="170.80" y2="150.1" stroke="#eadcf3" stroke-width="1"/><text x="170.80" y="160.1" font-size="8.2" fill="#666666" text-anchor="middle" font-family="Liberation Sans">70</text><rect x="45.60000000000002" y="83.6" width="125.20" height="25" fill="#c278e2"/><rect x="45.60000000000002" y="119.6" width="53.66" height="24" fill="#c278e2"/><line x1="45.60000000000002" y1="77.6" x2="45.60000000000002" y2="150.1" stroke="#8a8a8a" stroke-width="1"/><line x1="41.10000000000002" y1="78.1" x2="45.60000000000002" y2="78.1" stroke="#8a8a8a" stroke-width="1"/><line x1="41.10000000000002" y1="114.35" x2="45.60000000000002" y2="114.35" stroke="#8a8a8a" stroke-width="1"/><line x1="41.10000000000002" y1="150.6" x2="45.60000000000002" y2="150.6" stroke="#8a8a8a" stroke-width="1"/><text x="39.800000000000026" y="90.90" font-size="7.6" fill="#666666" text-anchor="end" font-family="Liberation Sans" letter-spacing="-0.25">Compet</text><text x="39.800000000000026" y="98.40" font-size="7.6" fill="#666666" text-anchor="end" font-family="Liberation Sans" letter-spacing="-0.25">itor V</text><text x="39.800000000000026" y="105.90" font-size="7.6" fill="#666666" text-anchor="end" font-family="Liberation Sans" letter-spacing="-0.25">isits</text><text x="39.800000000000026" y="126.50" font-size="7.6" fill="#666666" text-anchor="end" font-family="Liberation Sans" letter-spacing="-0.25">Awaren</text><text x="39.800000000000026" y="134.00" font-size="7.6" fill="#666666" text-anchor="end" font-family="Liberation Sans" letter-spacing="-0.25">ess Sc</text><text x="39.800000000000026" y="141.50" font-size="7.6" fill="#666666" text-anchor="end" font-family="Liberation Sans" letter-spacing="-0.25">ore</text></svg>
<svg style="left:621.14px;top:175.4px" width="188" height="206"><rect x="0.5" y="0.5" width="186.9" height="205" rx="6" fill="#e6cdf3" stroke="#dcbdf0" stroke-width="1"/><path d="M93.86000000000001 84.6 L93.86 21.60 A63 63 0 1 1 60.76 138.20 Z" fill="#c278e2"/><path d="M93.86000000000001 84.6 L60.76 138.20 A63 63 0 0 1 33.15 101.44 Z" fill="#7f5fe0"/><path d="M93.86000000000001 84.6 L33.15 101.44 A63 63 0 0 1 93.86 21.60 Z" fill="#e05c6e"/><rect x="33.860000000000014" y="155" width="15.3" height="8" rx="1.5" fill="#c278e2"/><text x="52.460000000000015" y="162.1" font-size="8.3" fill="#4d4d4d" letter-spacing="-0.2" font-family="Liberation Sans">Internal Alignment</text><rect x="33.860000000000014" y="169.8" width="15.3" height="8" rx="1.5" fill="#7f5fe0"/><text x="52.460000000000015" y="176.9" font-size="8.3" fill="#4d4d4d" letter-spacing="-0.2" font-family="Liberation Sans">RFP Completion Time (Days)</text><rect x="33.860000000000014" y="184.6" width="15.3" height="8" rx="1.5" fill="#e05c6e"/><text x="52.460000000000015" y="191.7" font-size="8.3" fill="#4d4d4d" letter-spacing="-0.2" font-family="Liberation Sans">External Alingment</text></svg>
<svg style="left:817.28px;top:175.4px" width="188" height="206"><rect x="0.5" y="0.5" width="186.9" height="205" rx="6" fill="#e6cdf3" stroke="#dcbdf0" stroke-width="1"/><text x="47.12" y="160.1" font-size="8.2" fill="#666666" text-anchor="middle" font-family="Liberation Sans">0</text><line x1="72.04" y1="77.6" x2="72.04" y2="150.1" stroke="#eadcf3" stroke-width="1"/><text x="72.04" y="160.1" font-size="8.2" fill="#666666" text-anchor="middle" font-family="Liberation Sans">20</text><line x1="96.96" y1="77.6" x2="96.96" y2="150.1" stroke="#eadcf3" stroke-width="1"/><text x="96.96" y="160.1" font-size="8.2" fill="#666666" text-anchor="middle" font-family="Liberation Sans">40</text><line x1="121.88" y1="77.6" x2="121.88" y2="150.1" stroke="#eadcf3" stroke-width="1"/><text x="121.88" y="160.1" font-size="8.2" fill="#666666" text-anchor="middle" font-family="Liberation Sans">60</text><line x1="146.80" y1="77.6" x2="146.80" y2="150.1" stroke="#eadcf3" stroke-width="1"/><text x="146.80" y="160.1" font-size="8.2" fill="#666666" text-anchor="middle" font-family="Liberation Sans">80</text><line x1="171.72" y1="77.6" x2="171.72" y2="150.1" stroke="#eadcf3" stroke-width="1"/><text x="171.72" y="160.1" font-size="8.2" fill="#666666" text-anchor="middle" font-family="Liberation Sans">100</text><rect x="47.120000000000005" y="83.6" width="80.99" height="25" fill="#c278e2"/><rect x="47.120000000000005" y="119.6" width="105.91" height="24" fill="#c278e2"/><line x1="47.120000000000005" y1="77.6" x2="47.120000000000005" y2="150.1" stroke="#8a8a8a" stroke-width="1"/><line x1="42.620000000000005" y1="78.1" x2="47.120000000000005" y2="78.1" stroke="#8a8a8a" stroke-width="1"/><line x1="42.620000000000005" y1="114.35" x2="47.120000000000005" y2="114.35" stroke="#8a8a8a" stroke-width="1"/><line x1="42.620000000000005" y1="150.6" x2="47.120000000000005" y2="150.6" stroke="#8a8a8a" stroke-width="1"/><text x="41.32000000000001" y="87.15" font-size="7.6" fill="#666666" text-anchor="end" font-family="Liberation Sans" letter-spacing="-0.25">Trial</text><text x="41.32000000000001" y="94.65" font-size="7.6" fill="#666666" text-anchor="end" font-family="Liberation Sans" letter-spacing="-0.25">Engage</text><text x="41.32000000000001" y="102.15" font-size="7.6" fill="#666666" text-anchor="end" font-family="Liberation Sans" letter-spacing="-0.25">ment S</text><text x="41.32000000000001" y="109.65" font-size="7.6" fill="#666666" text-anchor="end" font-family="Liberation Sans" letter-spacing="-0.25">core</text><text x="41.32000000000001" y="122.75" font-size="7.6" fill="#666666" text-anchor="end" font-family="Liberation Sans" letter-spacing="-0.25">Demo C</text><text x="41.32000000000001" y="130.25" font-size="7.6" fill="#666666" text-anchor="end" font-family="Liberation Sans" letter-spacing="-0.25">omplet</text><text x="41.32000000000001" y="137.75" font-size="7.6" fill="#666666" text-anchor="end" font-family="Liberation Sans" letter-spacing="-0.25">ion Ra</text><text x="41.32000000000001" y="145.25" font-size="7.6" fill="#666666" text-anchor="end" font-family="Liberation Sans" letter-spacing="-0.25">te</text></svg>
<svg style="left:1013.42px;top:175.4px" width="188" height="206"><rect x="0.5" y="0.5" width="186.9" height="205" rx="6" fill="#e6cdf3" stroke="#dcbdf0" stroke-width="1"/><text x="43.38" y="160.1" font-size="8.2" fill="#666666" text-anchor="middle" font-family="Liberation Sans">0</text><line x1="75.31" y1="77.6" x2="75.31" y2="150.1" stroke="#eadcf3" stroke-width="1"/><text x="75.31" y="160.1" font-size="8.2" fill="#666666" text-anchor="middle" font-family="Liberation Sans">20</text><line x1="107.23" y1="77.6" x2="107.23" y2="150.1" stroke="#eadcf3" stroke-width="1"/><text x="107.23" y="160.1" font-size="8.2" fill="#666666" text-anchor="middle" font-family="Liberation Sans">40</text><line x1="139.16" y1="77.6" x2="139.16" y2="150.1" stroke="#eadcf3" stroke-width="1"/><text x="139.16" y="160.1" font-size="8.2" fill="#666666" text-anchor="middle" font-family="Liberation Sans">60</text><line x1="171.08" y1="77.6" x2="171.08" y2="150.1" stroke="#eadcf3" stroke-width="1"/><text x="171.08" y="160.1" font-size="8.2" fill="#666666" text-anchor="middle" font-family="Liberation Sans">80</text><rect x="43.379999999999995" y="83.6" width="12.77" height="25" fill="#c278e2"/><rect x="43.379999999999995" y="119.6" width="119.72" height="24" fill="#c278e2"/><line x1="43.379999999999995" y1="77.6" x2="43.379999999999995" y2="150.1" stroke="#8a8a8a" stroke-width="1"/><line x1="38.879999999999995" y1="78.1" x2="43.379999999999995" y2="78.1" stroke="#8a8a8a" stroke-width="1"/><line x1="38.879999999999995" y1="114.35" x2="43.379999999999995" y2="114.35" stroke="#8a8a8a" stroke-width="1"/><line x1="38.879999999999995" y1="150.6" x2="43.379999999999995" y2="150.6" stroke="#8a8a8a" stroke-width="1"/><text x="37.58" y="87.15" font-size="7.6" fill="#666666" text-anchor="end" font-family="Liberation Sans" letter-spacing="-0.25">Usabil</text><text x="37.58" y="94.65" font-size="7.6" fill="#666666" text-anchor="end" font-family="Liberation Sans" letter-spacing="-0.25">ity Sc</text><text x="37.58" y="102.15" font-size="7.6" fill="#666666" text-anchor="end" font-family="Liberation Sans" letter-spacing="-0.25">ore (A</text><text x="37.58" y="109.65" font-size="7.6" fill="#666666" text-anchor="end" font-family="Liberation Sans" letter-spacing="-0.25">vg)</text><text x="37.58" y="119.00" font-size="7.6" fill="#666666" text-anchor="end" font-family="Liberation Sans" letter-spacing="-0.25">Stakeh</text><text x="37.58" y="126.50" font-size="7.6" fill="#666666" text-anchor="end" font-family="Liberation Sans" letter-spacing="-0.25">older</text><text x="37.58" y="134.00" font-size="7.6" fill="#666666" text-anchor="end" font-family="Liberation Sans" letter-spacing="-0.25">Approv</text><text x="37.58" y="141.50" font-size="7.6" fill="#666666" text-anchor="end" font-family="Liberation Sans" letter-spacing="-0.25">al Rat</text><text x="37.58" y="149.00" font-size="7.6" fill="#666666" text-anchor="end" font-family="Liberation Sans" letter-spacing="-0.25">ing</text></svg>
<svg style="left:1209.56px;top:175.4px" width="188" height="206"><rect x="0.5" y="0.5" width="186.9" height="205" rx="6" fill="#e6cdf3" stroke="#dcbdf0" stroke-width="1"/><text x="43.44" y="160.1" font-size="8.2" fill="#666666" text-anchor="middle" font-family="Liberation Sans">0</text><line x1="69.00" y1="77.6" x2="69.00" y2="150.1" stroke="#eadcf3" stroke-width="1"/><text x="69.00" y="160.1" font-size="8.2" fill="#666666" text-anchor="middle" font-family="Liberation Sans">5</text><line x1="94.56" y1="77.6" x2="94.56" y2="150.1" stroke="#eadcf3" stroke-width="1"/><text x="94.56" y="160.1" font-size="8.2" fill="#666666" text-anchor="middle" font-family="Liberation Sans">10</text><line x1="120.12" y1="77.6" x2="120.12" y2="150.1" stroke="#eadcf3" stroke-width="1"/><text x="120.12" y="160.1" font-size="8.2" fill="#666666" text-anchor="middle" font-family="Liberation Sans">15</text><line x1="145.68" y1="77.6" x2="145.68" y2="150.1" stroke="#eadcf3" stroke-width="1"/><text x="145.68" y="160.1" font-size="8.2" fill="#666666" text-anchor="middle" font-family="Liberation Sans">20</text><line x1="171.24" y1="77.6" x2="171.24" y2="150.1" stroke="#eadcf3" stroke-width="1"/><text x="171.24" y="160.1" font-size="8.2" fill="#666666" text-anchor="middle" font-family="Liberation Sans">25</text><rect x="43.440000000000055" y="83.6" width="51.12" height="25" fill="#c278e2"/><rect x="43.440000000000055" y="119.6" width="107.35" height="24" fill="#c278e2"/><line x1="43.440000000000055" y1="77.6" x2="43.440000000000055" y2="150.1" stroke="#8a8a8a" stroke-width="1"/><line x1="38.940000000000055" y1="78.1" x2="43.440000000000055" y2="78.1" stroke="#8a8a8a" stroke-width="1"/><line x1="38.940000000000055" y1="114.35" x2="43.440000000000055" y2="114.35" stroke="#8a8a8a" stroke-width="1"/><line x1="38.940000000000055" y1="150.6" x2="43.440000000000055" y2="150.6" stroke="#8a8a8a" stroke-width="1"/><text x="37.64000000000006" y="87.15" font-size="7.6" fill="#666666" text-anchor="end" font-family="Liberation Sans" letter-spacing="-0.25">Compli</text><text x="37.64000000000006" y="94.65" font-size="7.6" fill="#666666" text-anchor="end" font-family="Liberation Sans" letter-spacing="-0.25">ance R</text><text x="37.64000000000006" y="102.15" font-size="7.6" fill="#666666" text-anchor="end" font-family="Liberation Sans" letter-spacing="-0.25">isk Sc</text><text x="37.64000000000006" y="109.65" font-size="7.6" fill="#666666" text-anchor="end" font-family="Liberation Sans" letter-spacing="-0.25">ore</text><text x="37.64000000000006" y="119.00" font-size="7.6" fill="#666666" text-anchor="end" font-family="Liberation Sans" letter-spacing="-0.25">Securi</text><text x="37.64000000000006" y="126.50" font-size="7.6" fill="#666666" text-anchor="end" font-family="Liberation Sans" letter-spacing="-0.25">ty Vet</text><text x="37.64000000000006" y="134.00" font-size="7.6" fill="#666666" text-anchor="end" font-family="Liberation Sans" letter-spacing="-0.25">ting T</text><text x="37.64000000000006" y="141.50" font-size="7.6" fill="#666666" text-anchor="end" font-family="Liberation Sans" letter-spacing="-0.25">ime (D</text><text x="37.64000000000006" y="149.00" font-size="7.6" fill="#666666" text-anchor="end" font-family="Liberation Sans" letter-spacing="-0.25">ays)</text></svg>
<svg style="left:1405.6999999999998px;top:175.4px" width="188" height="206"><rect x="0.5" y="0.5" width="186.9" height="205" rx="6" fill="#e6cdf3" stroke="#dcbdf0" stroke-width="1"/><text x="45.70" y="160.1" font-size="8.2" fill="#666666" text-anchor="middle" font-family="Liberation Sans">0</text><line x1="70.98" y1="77.6" x2="70.98" y2="150.1" stroke="#eadcf3" stroke-width="1"/><text x="70.98" y="160.1" font-size="8.2" fill="#666666" text-anchor="middle" font-family="Liberation Sans">3</text><line x1="96.26" y1="77.6" x2="96.26" y2="150.1" stroke="#eadcf3" stroke-width="1"/><text x="96.26" y="160.1" font-size="8.2" fill="#666666" text-anchor="middle" font-family="Liberation Sans">6</text><line x1="121.54" y1="77.6" x2="121.54" y2="150.1" stroke="#eadcf3" stroke-width="1"/><text x="121.54" y="160.1" font-size="8.2" fill="#666666" text-anchor="middle" font-family="Liberation Sans">9</text><line x1="146.82" y1="77.6" x2="146.82" y2="150.1" stroke="#eadcf3" stroke-width="1"/><text x="146.82" y="160.1" font-size="8.2" fill="#666666" text-anchor="middle" font-family="Liberation Sans">12</text><line x1="172.10" y1="77.6" x2="172.10" y2="150.1" stroke="#eadcf3" stroke-width="1"/><text x="172.10" y="160.1" font-size="8.2" fill="#666666" text-anchor="middle" font-family="Liberation Sans">15</text><rect x="45.70000000000027" y="83.6" width="25.28" height="25" fill="#c278e2"/><rect x="45.70000000000027" y="119.6" width="126.40" height="24" fill="#c278e2"/><line x1="45.70000000000027" y1="77.6" x2="45.70000000000027" y2="150.1" stroke="#8a8a8a" stroke-width="1"/><line x1="41.20000000000027" y1="78.1" x2="45.70000000000027" y2="78.1" stroke="#8a8a8a" stroke-width="1"/><line x1="41.20000000000027" y1="114.35" x2="45.70000000000027" y2="114.35" stroke="#8a8a8a" stroke-width="1"/><line x1="41.20000000000027" y1="150.6" x2="45.70000000000027" y2="150.6" stroke="#8a8a8a" stroke-width="1"/><text x="39.900000000000276" y="83.40" font-size="7.6" fill="#666666" text-anchor="end" font-family="Liberation Sans" letter-spacing="-0.25">Negoti</text><text x="39.900000000000276" y="90.90" font-size="7.6" fill="#666666" text-anchor="end" font-family="Liberation Sans" letter-spacing="-0.25">ation</text><text x="39.900000000000276" y="98.40" font-size="7.6" fill="#666666" text-anchor="end" font-family="Liberation Sans" letter-spacing="-0.25">Cycle</text><text x="39.900000000000276" y="105.90" font-size="7.6" fill="#666666" text-anchor="end" font-family="Liberation Sans" letter-spacing="-0.25">Time (</text><text x="39.900000000000276" y="113.40" font-size="7.6" fill="#666666" text-anchor="end" font-family="Liberation Sans" letter-spacing="-0.25">Weeks)</text><text x="39.900000000000276" y="122.75" font-size="7.6" fill="#666666" text-anchor="end" font-family="Liberation Sans" letter-spacing="-0.25">Discou</text><text x="39.900000000000276" y="130.25" font-size="7.6" fill="#666666" text-anchor="end" font-family="Liberation Sans" letter-spacing="-0.25">nt Ach</text><text x="39.900000000000276" y="137.75" font-size="7.6" fill="#666666" text-anchor="end" font-family="Liberation Sans" letter-spacing="-0.25">ieved</text><text x="39.900000000000276" y="145.25" font-size="7.6" fill="#666666" text-anchor="end" font-family="Liberation Sans" letter-spacing="-0.25">(%)</text></svg>
<svg style="left:1601.84px;top:175.4px" width="188" height="206"><rect x="0.5" y="0.5" width="186.9" height="205" rx="6" fill="#e6cdf3" stroke="#dcbdf0" stroke-width="1"/><text x="45.56" y="160.1" font-size="8.2" fill="#666666" text-anchor="middle" font-family="Liberation Sans">0</text><line x1="77.16" y1="77.6" x2="77.16" y2="150.1" stroke="#eadcf3" stroke-width="1"/><text x="77.16" y="160.1" font-size="8.2" fill="#666666" text-anchor="middle" font-family="Liberation Sans">2</text><line x1="108.76" y1="77.6" x2="108.76" y2="150.1" stroke="#eadcf3" stroke-width="1"/><text x="108.76" y="160.1" font-size="8.2" fill="#666666" text-anchor="middle" font-family="Liberation Sans">4</text><line x1="140.36" y1="77.6" x2="140.36" y2="150.1" stroke="#eadcf3" stroke-width="1"/><text x="140.36" y="160.1" font-size="8.2" fill="#666666" text-anchor="middle" font-family="Liberation Sans">6</text><line x1="171.96" y1="77.6" x2="171.96" y2="150.1" stroke="#eadcf3" stroke-width="1"/><text x="171.96" y="160.1" font-size="8.2" fill="#666666" text-anchor="middle" font-family="Liberation Sans">8</text><rect x="45.56000000000017" y="83.6" width="63.20" height="25" fill="#c278e2"/><rect x="45.56000000000017" y="119.6" width="126.40" height="24" fill="#c278e2"/><line x1="45.56000000000017" y1="77.6" x2="45.56000000000017" y2="150.1" stroke="#8a8a8a" stroke-width="1"/><line x1="41.06000000000017" y1="78.1" x2="45.56000000000017" y2="78.1" stroke="#8a8a8a" stroke-width="1"/><line x1="41.06000000000017" y1="114.35" x2="45.56000000000017" y2="114.35" stroke="#8a8a8a" stroke-width="1"/><line x1="41.06000000000017" y1="150.6" x2="45.56000000000017" y2="150.6" stroke="#8a8a8a" stroke-width="1"/><text x="39.760000000000176" y="83.40" font-size="7.6" fill="#666666" text-anchor="end" font-family="Liberation Sans" letter-spacing="-0.25">Time i</text><text x="39.760000000000176" y="90.90" font-size="7.6" fill="#666666" text-anchor="end" font-family="Liberation Sans" letter-spacing="-0.25">n Lega</text><text x="39.760000000000176" y="98.40" font-size="7.6" fill="#666666" text-anchor="end" font-family="Liberation Sans" letter-spacing="-0.25">l Revi</text><text x="39.760000000000176" y="105.90" font-size="7.6" fill="#666666" text-anchor="end" font-family="Liberation Sans" letter-spacing="-0.25">ew (We</text><text x="39.760000000000176" y="113.40" font-size="7.6" fill="#666666" text-anchor="end" font-family="Liberation Sans" letter-spacing="-0.25">eks)</text><text x="39.760000000000176" y="119.00" font-size="7.6" fill="#666666" text-anchor="end" font-family="Liberation Sans" letter-spacing="-0.25">Contra</text><text x="39.760000000000176" y="126.50" font-size="7.6" fill="#666666" text-anchor="end" font-family="Liberation Sans" letter-spacing="-0.25">ct Red</text><text x="39.760000000000176" y="134.00" font-size="7.6" fill="#666666" text-anchor="end" font-family="Liberation Sans" letter-spacing="-0.25">lines</text><text x="39.760000000000176" y="141.50" font-size="7.6" fill="#666666" text-anchor="end" font-family="Liberation Sans" letter-spacing="-0.25">(Count</text><text x="39.760000000000176" y="149.00" font-size="7.6" fill="#666666" text-anchor="end" font-family="Liberation Sans" letter-spacing="-0.25">)</text></svg>
<svg style="left:1797.98px;top:175.4px" width="188" height="206"><rect x="0.5" y="0.5" width="186.9" height="205" rx="6" fill="#e6cdf3" stroke="#dcbdf0" stroke-width="1"/><text x="45.72" y="160.1" font-size="8.2" fill="#666666" text-anchor="middle" font-family="Liberation Sans">0</text><line x1="71.12" y1="77.6" x2="71.12" y2="150.1" stroke="#eadcf3" stroke-width="1"/><text x="71.12" y="160.1" font-size="8.2" fill="#666666" text-anchor="middle" font-family="Liberation Sans">20</text><line x1="96.52" y1="77.6" x2="96.52" y2="150.1" stroke="#eadcf3" stroke-width="1"/><text x="96.52" y="160.1" font-size="8.2" fill="#666666" text-anchor="middle" font-family="Liberation Sans">40</text><line x1="121.92" y1="77.6" x2="121.92" y2="150.1" stroke="#eadcf3" stroke-width="1"/><text x="121.92" y="160.1" font-size="8.2" fill="#666666" text-anchor="middle" font-family="Liberation Sans">60</text><line x1="147.32" y1="77.6" x2="147.32" y2="150.1" stroke="#eadcf3" stroke-width="1"/><text x="147.32" y="160.1" font-size="8.2" fill="#666666" text-anchor="middle" font-family="Liberation Sans">80</text><line x1="172.72" y1="77.6" x2="172.72" y2="150.1" stroke="#eadcf3" stroke-width="1"/><text x="172.72" y="160.1" font-size="8.2" fill="#666666" text-anchor="middle" font-family="Liberation Sans">100</text><rect x="45.72000000000003" y="83.6" width="101.60" height="25" fill="#c278e2"/><rect x="45.72000000000003" y="119.6" width="88.90" height="24" fill="#c278e2"/><line x1="45.72000000000003" y1="77.6" x2="45.72000000000003" y2="150.1" stroke="#8a8a8a" stroke-width="1"/><line x1="41.22000000000003" y1="78.1" x2="45.72000000000003" y2="78.1" stroke="#8a8a8a" stroke-width="1"/><line x1="41.22000000000003" y1="114.35" x2="45.72000000000003" y2="114.35" stroke="#8a8a8a" stroke-width="1"/><line x1="41.22000000000003" y1="150.6" x2="45.72000000000003" y2="150.6" stroke="#8a8a8a" stroke-width="1"/><text x="39.92000000000003" y="87.15" font-size="7.6" fill="#666666" text-anchor="end" font-family="Liberation Sans" letter-spacing="-0.25">Total</text><text x="39.92000000000003" y="94.65" font-size="7.6" fill="#666666" text-anchor="end" font-family="Liberation Sans" letter-spacing="-0.25">Sales</text><text x="39.92000000000003" y="102.15" font-size="7.6" fill="#666666" text-anchor="end" font-family="Liberation Sans" letter-spacing="-0.25">Cycle</text><text x="39.92000000000003" y="109.65" font-size="7.6" fill="#666666" text-anchor="end" font-family="Liberation Sans" letter-spacing="-0.25">(Days)</text><text x="39.92000000000003" y="122.75" font-size="7.6" fill="#666666" text-anchor="end" font-family="Liberation Sans" letter-spacing="-0.25">Purcha</text><text x="39.92000000000003" y="130.25" font-size="7.6" fill="#666666" text-anchor="end" font-family="Liberation Sans" letter-spacing="-0.25">se Com</text><text x="39.92000000000003" y="137.75" font-size="7.6" fill="#666666" text-anchor="end" font-family="Liberation Sans" letter-spacing="-0.25">mitmen</text><text x="39.92000000000003" y="145.25" font-size="7.6" fill="#666666" text-anchor="end" font-family="Liberation Sans" letter-spacing="-0.25">t Rate</text></svg>
<svg style="left:62px;top:418px" width="10" height="12"><circle cx="1.0" cy="1.0" r="1.1" fill="#2a8ad0"/><circle cx="5.2" cy="1.0" r="1.1" fill="#2a8ad0"/><circle cx="1.0" cy="5.2" r="1.1" fill="#2a8ad0"/><circle cx="5.2" cy="5.2" r="1.1" fill="#2a8ad0"/><circle cx="1.0" cy="9.4" r="1.1" fill="#2a8ad0"/><circle cx="5.2" cy="9.4" r="1.1" fill="#2a8ad0"/></svg>
<svg style="left:76.2px;top:417.7px" width="8.5" height="8" viewBox="0 0 8.5 8" fill="none" stroke="#4e5e8e" stroke-width="1.15"><circle cx="1.9" cy="1.9" r="1.3"/><path d="M5.2 0.6 L7.8 3.2 M7.8 0.6 L5.2 3.2"/><path d="M1.8 4.7 L3.4 7.4 H0.3Z" stroke-linejoin="round"/><rect x="5.1" y="4.6" width="2.7" height="2.7"/></svg>
<div class="lbl" style="left:89.3px;top:409.8px">Touchpoints &amp;<br>Channels</div>
<svg style="left:205.4px;top:416px" width="4" height="12"><circle cx="2" cy="1.9000000000000004" r="1.05" fill="#8a93a8"/><circle cx="2" cy="6.0" r="1.05" fill="#8a93a8"/><circle cx="2" cy="10.1" r="1.05" fill="#8a93a8"/></svg>
<div class="a" style="left:61px;top:449px;width:53px;height:14px;border-radius:7px;background:#1a85c8"></div>
<svg style="left:63.5px;top:451.5px" width="9" height="8" viewBox="0 0 9 8" fill="none" stroke="#fff" stroke-width="0.9"><circle cx="3.3" cy="2.2" r="1.6"/><path d="M0.5 7.6 Q0.5 4.6 3.3 4.6 Q6.1 4.6 6.1 7.6"/><path d="M5.6 0.8 Q7.2 0.8 7.2 2.3 Q7.2 3.6 5.9 3.8 M7.2 4.8 Q8.5 5.4 8.5 7.6"/></svg>
<div class="t" style="left:73.6px;top:451.5px;font-size:6.2px;line-height:9px;color:#fff;font-weight:700">All personas</div>
<div class="card" style="left:228px;top:401px;width:187px;height:94px;background:#a9d0ea;border:1px solid #8fc0e3"></div>
<div class="tp" style="left:235px;top:421.3px"><div class="ib"><div style="position:absolute;left:50%;top:50%;transform:translate(-50%,-50%);line-height:0"><svg viewBox="0 0 20 16" width="20" height="16"><path d="M2 1.5 V13 Q2 14 3 14 H18" fill="none" stroke="#0f74c0" stroke-width="2.2" stroke-linecap="round"/><path d="M5.5 10.5 L9 6.8 L11.6 9 L16.5 4.2" fill="none" stroke="#0f74c0" stroke-width="2.2" stroke-linecap="round" stroke-linejoin="round"/></svg></div></div>Internal Data</div>
<div class="tp" style="left:294px;top:421.3px"><div class="ib"><div style="position:absolute;left:50%;top:50%;transform:translate(-50%,-50%);line-height:0"><svg viewBox="0 0 14 14" width="14" height="14"><rect x="0.5" y="0.5" width="13" height="13" rx="1" fill="#0f74c0"/><rect x="2.3" y="4.2" width="9.5" height="1.6" fill="#98c6e6"/><rect x="4.8" y="2.3" width="1.6" height="9.5" fill="#98c6e6"/></svg></div></div>Manual<br>Process</div>
<div class="tp" style="left:353px;top:421.3px"><div class="ib"><div style="position:absolute;left:50%;top:50%;transform:translate(-50%,-50%);line-height:0"><svg viewBox="0 0 22 16" width="22" height="16"><rect x="3" y="1.6" width="16" height="10" rx="1.5" fill="none" stroke="#0f74c0" stroke-width="2"/><path d="M0.5 13.3 H21.5 Q21.5 15.3 19.5 15.3 H2.5 Q0.5 15.3 0.5 13.3Z" fill="#0f74c0"/></svg></div></div>Laptop</div>
<div class="card" style="left:425.0px;top:401px;width:187px;height:94px;background:#a9d0ea;border:1px solid #8fc0e3"></div>
<div class="tp" style="left:432.0px;top:421.3px"><div class="ib"><div style="position:absolute;left:50%;top:50%;transform:translate(-50%,-50%);line-height:0"><svg viewBox="0 0 16 16" width="16" height="16"><circle cx="6.8" cy="6.8" r="5" fill="none" stroke="#0f74c0" stroke-width="1.6"/><path d="M10.5 10.5 L14.6 14.6" stroke="#0f74c0" stroke-width="1.8" stroke-linecap="round"/></svg></div></div>Google<br>Search</div>
<div class="tp" style="left:491.0px;top:421.3px"><div class="ib"><div style="position:absolute;left:50%;top:50%;transform:translate(-50%,-50%);line-height:0"><svg viewBox="0 0 16 16" width="16" height="16"><rect x="1" y="1" width="14" height="14" rx="1" fill="#0f74c0"/><rect x="3.4" y="6.3" width="2.1" height="6.8" fill="#98c6e6"/><circle cx="4.45" cy="4.2" r="1.2" fill="#98c6e6"/><path d="M7.2 6.3 H9.2 V7.3 Q10 6.1 11.4 6.1 Q13.3 6.1 13.3 8.8 V13.1 H11.2 V9.2 Q11.2 7.9 10.2 7.9 Q9.3 7.9 9.3 9.2 V13.1 H7.2Z" fill="#98c6e6"/></svg></div></div>Peer Review</div>
<div class="tp" style="left:550.0px;top:421.3px"><div class="ib"><div style="position:absolute;left:50%;top:50%;transform:translate(-50%,-50%);line-height:0"><svg viewBox="0 0 16 16" width="16" height="16"><circle cx="8" cy="8" r="6.6" fill="none" stroke="#0f74c0" stroke-width="1.5"/><ellipse cx="8" cy="8" rx="2.9" ry="6.6" fill="none" stroke="#0f74c0" stroke-width="1.4"/><path d="M1.6 8 H14.4 M2.6 4.8 H13.4 M2.6 11.2 H13.4 M8 1.4 V14.6" stroke="#0f74c0" stroke-width="1.3"/></svg></div></div>Vendor<br>Websites</div>
<div class="card" style="left:621.14px;top:401px;width:187px;height:94px;background:#a9d0ea;border:1px solid #8fc0e3"></div>
<div class="tp" style="left:628.14px;top:421.3px"><div class="ib"><div style="position:absolute;left:50%;top:50%;transform:translate(-50%,-50%);line-height:0"><svg viewBox="0 0 16 16" width="16" height="16"><path d="M2.5 1 H9 L12.5 4.5 V8.5 L8 13 V15 H2.5 Q1.5 15 1.5 14 V2 Q1.5 1 2.5 1Z" fill="#0f74c0"/><path d="M8.5 1.2 V5 H12.3" fill="#98c6e6"/><rect x="3.5" y="7" width="6" height="1.2" fill="#98c6e6"/><rect x="3.5" y="9.6" width="4" height="1.2" fill="#98c6e6"/><path d="M9.3 14.6 L9.6 12.3 L14 7.9 L15.8 9.7 L11.4 14.1Z" fill="#0f74c0"/></svg></div></div>RFP<br>Document</div>
<div class="tp" style="left:687.14px;top:421.3px"><div class="ib"><div style="position:absolute;left:50%;top:50%;transform:translate(-50%,-50%);line-height:0"><svg viewBox="0 0 16 13" width="16" height="13"><rect x="0.5" y="0.5" width="15" height="12" rx="1.2" fill="#0f74c0"/><path d="M2 2.6 L8 6.5 L14 2.6" fill="none" stroke="#98c6e6" stroke-width="1.3"/></svg></div></div>Internal Email</div>
<div class="card" style="left:817.28px;top:401px;width:187px;height:94px;background:#a9d0ea;border:1px solid #8fc0e3"></div>
<div class="tp" style="left:824.28px;top:425.8px"><div class="ib"><div style="position:absolute;left:50%;top:50%;transform:translate(-50%,-50%);line-height:0"><svg viewBox="0 0 18 13" width="18" height="13"><rect x="2.7" y="1" width="12.6" height="8.6" rx="0.8" fill="none" stroke="#0f74c0" stroke-width="1.6"/><rect x="0.5" y="11" width="17" height="1.5" fill="#0f74c0"/></svg></div></div>Demo/Trial</div>
<div class="tp" style="left:883.28px;top:425.8px"><div class="ib"><div style="position:absolute;left:50%;top:50%;transform:translate(-50%,-50%);line-height:0"><svg viewBox="0 0 16 16" width="16" height="16"><circle cx="8" cy="4" r="3.7" fill="#0f74c0"/><path d="M1 16 Q1 9.2 6 9 L8 11 L10 9 Q15 9.2 15 16Z" fill="#0f74c0"/><path d="M7.3 9.7 H8.7 L9 14.2 L8 15.2 L7 14.2Z" fill="#98c6e6"/></svg></div></div>Sales Rep</div>
<div class="card" style="left:1013.42px;top:401px;width:187px;height:94px;background:#a9d0ea;border:1px solid #8fc0e3"></div>
<div class="tp" style="left:1020.42px;top:421.3px"><div class="ib"><div style="position:absolute;left:50%;top:50%;transform:translate(-50%,-50%);line-height:0"><svg viewBox="0 0 20 13" width="20" height="13"><circle cx="10" cy="3.2" r="2.9" fill="#0f74c0"/><circle cx="4.2" cy="4.8" r="2.1" fill="#0f74c0"/><circle cx="15.8" cy="4.8" r="2.1" fill="#0f74c0"/><path d="M5 12.5 Q5 7.5 10 7.5 Q15 7.5 15 12.5Z" fill="#0f74c0"/><path d="M0.5 12.5 Q0.5 8.2 4.5 8.2 Q5.6 8.2 6 8.6 Q4.3 10 4.3 12.5Z" fill="#0f74c0"/><path d="M19.5 12.5 Q19.5 8.2 15.5 8.2 Q14.4 8.2 14 8.6 Q15.7 10 15.7 12.5Z" fill="#0f74c0"/></svg></div></div>Stakeholder<br>Meeting</div>
<div class="tp" style="left:1079.42px;top:421.3px"><div class="ib"><div style="position:absolute;left:50%;top:50%;transform:translate(-50%,-50%);line-height:0"><svg viewBox="0 0 16 16" width="16" height="16"><rect x="1.5" y="1.5" width="2.2" height="13" fill="#0f74c0"/><rect x="1.5" y="12.6" width="13.5" height="1.9" fill="#0f74c0"/><rect x="5.6" y="5.6" width="2.2" height="8" fill="#0f74c0"/><rect x="9.4" y="3.6" width="2.2" height="10" fill="#0f74c0"/><rect x="12.8" y="8.2" width="2.2" height="5.5" fill="#0f74c0"/></svg></div></div>Comparison<br>Scorecard</div>
<div class="card" style="left:1209.56px;top:401px;width:187px;height:94px;background:#a9d0ea;border:1px solid #8fc0e3"></div>
<div class="tp" style="left:1216.56px;top:421.3px"><div class="ib"><div style="position:absolute;left:50%;top:50%;transform:translate(-50%,-50%);line-height:0"><svg viewBox="0 0 16 18" width="16" height="18"><path d="M8 0.8 L14.8 3.2 Q15 11 8 17.2 Q1 11 1.2 3.2Z" fill="#0f74c0"/><path d="M8 3 L12.8 4.8 Q12.8 10.4 8 14.8Z" fill="#98c6e6"/></svg></div></div>Security<br>Audit</div>
<div class="tp" style="left:1275.56px;top:421.3px"><div class="ib"><div style="position:absolute;left:50%;top:50%;transform:translate(-50%,-50%);line-height:0"><svg viewBox="0 0 16 16" width="16" height="16"><path d="M2.5 0.8 H8.5 L12 4.3 V8 Q9.5 8.2 9.5 10.5 V15.2 H2.5 Q1.8 15.2 1.8 14.5 V1.5 Q1.8 0.8 2.5 0.8Z" fill="#0f74c0"/><path d="M8 1 V4.8 H11.8" fill="#98c6e6"/><rect x="10" y="10.6" width="5.6" height="4.8" rx="0.8" fill="#0f74c0"/><path d="M11.2 10.8 V9.6 Q12.8 7.6 14.4 9.6 V10.8" fill="none" stroke="#0f74c0" stroke-width="1.2"/></svg></div></div>Compliance<br>Docs</div>
<div class="card" style="left:1405.6999999999998px;top:401px;width:187px;height:94px;background:#a9d0ea;border:1px solid #8fc0e3"></div>
<div class="tp" style="left:1412.6999999999998px;top:421.3px"><div class="ib"><div style="position:absolute;left:50%;top:50%;transform:translate(-50%,-50%);line-height:0"><svg viewBox="0 0 22 14" width="22" height="14"><rect x="0.3" y="3" width="2.2" height="8" fill="#0f74c0"/><rect x="19.5" y="3" width="2.2" height="8" fill="#0f74c0"/><path d="M3 3.5 L8 1.8 Q9.5 1.4 11 2.4 L14 1.8 Q15 1.6 16 2.4 L19 3.8 V10 L16 10.5 L12.5 13.2 Q11.6 13.8 10.7 13.1 L8 11 Q6 11.5 5 10 L3 9.5Z" fill="#0f74c0"/><path d="M9 4.5 L12.2 2.6 L16.5 7.4" fill="none" stroke="#98c6e6" stroke-width="1"/></svg></div></div>Negotiation<br>Calls</div>
<div class="tp" style="left:1471.6999999999998px;top:421.3px"><div class="ib"><div style="position:absolute;left:50%;top:50%;transform:translate(-50%,-50%);line-height:0"><svg viewBox="0 0 12 16" width="12" height="16"><path d="M9.3 4.2 Q8.7 2.6 6 2.6 Q3 2.6 3 4.8 Q3 6.6 6 7.2 Q9.4 7.8 9.4 10.6 Q9.4 13 6 13 Q3 13 2.5 11" fill="none" stroke="#0f74c0" stroke-width="1.7" stroke-linecap="round"/><path d="M6 0.8 V2.6 M6 13 V15" stroke="#0f74c0" stroke-width="1.7" stroke-linecap="round"/></svg></div></div>Pricing Sheet</div>
<div class="card" style="left:1601.84px;top:401px;width:187px;height:94px;background:#a9d0ea;border:1px solid #8fc0e3"></div>
<div class="tp" style="left:1608.84px;top:421.3px"><div class="ib"><div style="position:absolute;left:50%;top:50%;transform:translate(-50%,-50%);line-height:0"><svg viewBox="0 0 18 16" width="18" height="16"><path d="M9.6 1 L14.6 6 L13.1 7.5 L12.3 6.7 L9.7 9.3 L10.5 10.1 L9 11.6 L4 6.6 L5.5 5.1 L6.3 5.9 L8.9 3.3 L8.1 2.5Z" fill="#0f74c0"/><path d="M7.6 8.4 L1.2 14.8" stroke="#0f74c0" stroke-width="2" stroke-linecap="round"/><rect x="9.5" y="13.6" width="7.5" height="2" rx="0.5" fill="#0f74c0"/></svg></div></div>Legal Review</div>
<div class="tp" style="left:1667.84px;top:421.3px"><div class="ib"><div style="position:absolute;left:50%;top:50%;transform:translate(-50%,-50%);line-height:0"><svg viewBox="0 0 18 16" width="18" height="16"><path d="M2.5 0.8 H9 L12.5 4.3 V6" fill="none" stroke="#0f74c0" stroke-width="1.5"/><path d="M2.5 0.8 Q1.8 0.8 1.8 1.5 V14.3 Q1.8 15.1 2.6 15.1 H11.8 Q12.5 15.1 12.5 14.3 V12" fill="none" stroke="#0f74c0" stroke-width="1.5"/><path d="M3.6 12.5 Q4.6 9.8 5.4 12 Q6.2 13.6 7 11.2 Q7.6 10.2 8.3 12.1 L10.2 11.6" fill="none" stroke="#0f74c0" stroke-width="1"/><path d="M9.6 11.6 L10 9.6 L15.4 4.2 L17.2 6 L11.8 11.4Z" fill="#0f74c0"/></svg></div></div>Contract<br>Drafts</div>
<div class="card" style="left:1797.98px;top:401px;width:187px;height:94px;background:#a9d0ea;border:1px solid #8fc0e3"></div>
<div class="tp" style="left:1804.98px;top:421.3px"><div class="ib"><div style="position:absolute;left:50%;top:50%;transform:translate(-50%,-50%);line-height:0"><svg viewBox="0 0 16 16" width="16" height="16"><path d="M2 3.6 L6.2 7.8 L14 0.8" fill="none" stroke="#0f74c0" stroke-width="2.3" stroke-linecap="round" stroke-linejoin="round"/><path d="M2 9.4 L6.2 13.6 L14 6.6" fill="none" stroke="#0f74c0" stroke-width="2.3" stroke-linecap="round" stroke-linejoin="round"/></svg></div></div>Final<br>Approval</div>
<svg style="left:61.8px;top:526.9px" width="10" height="12"><circle cx="1.0" cy="1.0" r="1.1" fill="#2ecc71"/><circle cx="5.5" cy="1.0" r="1.1" fill="#2ecc71"/><circle cx="1.0" cy="5.25" r="1.1" fill="#2ecc71"/><circle cx="5.5" cy="5.25" r="1.1" fill="#2ecc71"/><circle cx="1.0" cy="9.5" r="1.1" fill="#2ecc71"/><circle cx="5.5" cy="9.5" r="1.1" fill="#2ecc71"/></svg>
<svg style="left:75.4px;top:524.4px" width="10" height="10" viewBox="0 0 10 10"><circle cx="5" cy="5" r="4.35" fill="none" stroke="#4b5a8c" stroke-width="0.95"/><path d="M2.7 4.1 H4 M6 4.1 H7.3" stroke="#4b5a8c" stroke-width="0.9" stroke-linecap="round"/><path d="M2.9 5.8 H7.1 Q6.9 8 5 8 Q3.1 8 2.9 5.8Z" fill="#4b5a8c"/></svg>
<div class="lbl" style="left:89.4px;top:524.6px">Emotional State</div>
<svg style="left:205.4px;top:525px" width="4" height="12"><circle cx="2" cy="1.9000000000000004" r="1.05" fill="#8a93a8"/><circle cx="2" cy="6.0" r="1.05" fill="#8a93a8"/><circle cx="2" cy="10.1" r="1.05" fill="#8a93a8"/></svg>
<div class="chip" style="left:61.3px;top:554px;width:65.4px;background:rgba(255,255,255,.55);opacity:1.0">Anya Sharma</div>
<div style="position:absolute;left:64.8px;top:555.5px;opacity:1.0"><svg style="left:0;top:0" width="12" height="12"><defs><clipPath id="cwoman1120"><circle cx="12" cy="12" r="12"/></clipPath></defs><g transform="scale(0.5)"><g clip-path="url(#cwoman1120)"><rect width="24" height="24" fill="#dde7e9"/><rect width="6" height="24" fill="#b9cbcf"/>
<path d="M4.5 13 Q4 3.2 12 3 Q20 3.2 19.5 13 Q19.6 16.5 17.5 17.5 L6.5 17.5 Q4.4 16.5 4.5 13Z" fill="#5a3121"/>
<ellipse cx="12" cy="11" rx="4.3" ry="5.4" fill="#e3b49e"/>
<path d="M7.8 8.5 Q9 4.6 13.5 5 Q16.5 5.8 16.4 9.5 Q13 6.5 7.8 8.5Z" fill="#5a3121"/>
<rect x="10.3" y="15" width="3.4" height="3.5" fill="#d9a48c"/>
<path d="M0 24 Q1.5 17.5 8 17 L12 19 L16 17 Q22.5 17.5 24 24Z" fill="#1c2142"/>
<path d="M9.2 17.2 L12 24 L14.8 17.2 L12 18.6Z" fill="#f1ede8"/></g></g></svg></div>
<div class="chip" style="left:61.3px;top:573px;width:65.4px;background:rgba(255,255,255,.55);opacity:1.0">Shanna Segal</div>
<div style="position:absolute;left:64.8px;top:574.5px;opacity:1.0"><svg style="left:0;top:0" width="12" height="12"><defs><clipPath id="cwoman2120"><circle cx="12" cy="12" r="12"/></clipPath></defs><g transform="scale(0.5)"><g clip-path="url(#cwoman2120)"><rect width="24" height="24" fill="#e9e4ef"/>
<path d="M6.5 14 Q5.5 3 12 3 Q18.5 3 17.5 14 L17 19 L7 19Z" fill="#1e1a22"/>
<ellipse cx="12" cy="10.5" rx="3.6" ry="4.6" fill="#d8a48c"/>
<path d="M8.3 9 Q9 5 12 5 Q15 5 15.6 8.5 Q12 6.8 8.3 9Z" fill="#1e1a22"/>
<path d="M2 24 Q3 17 9 16.5 L12 17.5 L15 16.5 Q21 17 22 24Z" fill="#1b1c2c"/></g></g></svg></div>
<svg style="left:0;top:0" width="1858" height="660"><line x1="223" y1="515.5" x2="1856" y2="515.5" stroke="#cbc5e4" stroke-width="1" stroke-dasharray="3 2"/><line x1="223" y1="542.5" x2="1856" y2="542.5" stroke="#cbc5e4" stroke-width="1" stroke-dasharray="3 2"/><line x1="223" y1="570.5" x2="1856" y2="570.5" stroke="#cbc5e4" stroke-width="1" stroke-dasharray="3 2"/><line x1="223" y1="597.5" x2="1856" y2="597.5" stroke="#cbc5e4" stroke-width="1" stroke-dasharray="3 2"/><line x1="223" y1="625.5" x2="1856" y2="625.5" stroke="#cbc5e4" stroke-width="1" stroke-dasharray="3 2"/><line x1="223" y1="651.5" x2="1856" y2="651.5" stroke="#cbc5e4" stroke-width="1" stroke-dasharray="3 2"/><path d="M321.9 555.9 L517.9 610.8 L714.6 583.8 L911 637.8 L1107 583.8 L1303 610.8 L1499.3 583.8 L1695.8 610.8 L1892 526" fill="none" stroke="#7079e6" stroke-width="2" stroke-dasharray="2 2"/><circle cx="321.9" cy="555.9" r="12" fill="#f38b38"/><circle cx="317.79999999999995" cy="552.5" r="2.05" fill="#2d3142"/><circle cx="326.0" cy="552.5" r="2.05" fill="#2d3142"/><path d="M316.7 560.1 Q321.9 564.9 327.09999999999997 560.1" fill="none" stroke="#2d3142" stroke-width="1.4" stroke-linecap="round"/><circle cx="517.9" cy="610.8" r="12" fill="#1fbadc"/><circle cx="513.8" cy="607.4" r="2.05" fill="#2d3142"/><circle cx="522.0" cy="607.4" r="2.05" fill="#2d3142"/><path d="M512.6 617.3 Q517.9 612.0 523.1999999999999 617.3" fill="none" stroke="#2d3142" stroke-width="1.4" stroke-linecap="round"/><circle cx="714.6" cy="583.8" r="12" fill="#22ceb9"/><circle cx="710.5" cy="580.4" r="2.05" fill="#2d3142"/><circle cx="718.7" cy="580.4" r="2.05" fill="#2d3142"/><rect x="709.6" y="587.9" width="10" height="1.6" fill="#2d3142"/><circle cx="911" cy="637.8" r="12" fill="#ec684b"/><circle cx="906.9" cy="634.4" r="2.05" fill="#2d3142"/><circle cx="915.1" cy="634.4" r="2.05" fill="#2d3142"/><path d="M904.8 643.5999999999999 Q911 636.0 917.2 643.5999999999999 Q911 641.4 904.8 643.5999999999999Z" fill="#2d3142"/><circle cx="1107" cy="583.8" r="12" fill="#22ceb9"/><circle cx="1102.9" cy="580.4" r="2.05" fill="#2d3142"/><circle cx="1111.1" cy="580.4" r="2.05" fill="#2d3142"/><rect x="1102" y="587.9" width="10" height="1.6" fill="#2d3142"/><circle cx="1303" cy="610.8" r="12" fill="#1fbadc"/><circle cx="1298.9" cy="607.4" r="2.05" fill="#2d3142"/><circle cx="1307.1" cy="607.4" r="2.05" fill="#2d3142"/><path d="M1297.7 617.3 Q1303 612.0 1308.3 617.3" fill="none" stroke="#2d3142" stroke-width="1.4" stroke-linecap="round"/><circle cx="1499.3" cy="583.8" r="12" fill="#22ceb9"/><circle cx="1495.2" cy="580.4" r="2.05" fill="#2d3142"/><circle cx="1503.3999999999999" cy="580.4" r="2.05" fill="#2d3142"/><rect x="1494.3" y="587.9" width="10" height="1.6" fill="#2d3142"/><circle cx="1695.8" cy="610.8" r="12" fill="#1fbadc"/><circle cx="1691.7" cy="607.4" r="2.05" fill="#2d3142"/><circle cx="1699.8999999999999" cy="607.4" r="2.05" fill="#2d3142"/><path d="M1690.5 617.3 Q1695.8 612.0 1701.1 617.3" fill="none" stroke="#2d3142" stroke-width="1.4" stroke-linecap="round"/><circle cx="1892" cy="526" r="12" fill="#f38b38"/><circle cx="1887.9" cy="522.6" r="2.05" fill="#2d3142"/><circle cx="1896.1" cy="522.6" r="2.05" fill="#2d3142"/><path d="M1886.8 530.2 Q1892 535 1897.2 530.2" fill="none" stroke="#2d3142" stroke-width="1.4" stroke-linecap="round"/></svg>
<svg style="left:61.5px;top:688px" width="10" height="12"><circle cx="1.0" cy="1.0" r="1.1" fill="#e0c22a"/><circle cx="5.7" cy="1.0" r="1.1" fill="#e0c22a"/><circle cx="1.0" cy="5.15" r="1.1" fill="#e0c22a"/><circle cx="5.7" cy="5.15" r="1.1" fill="#e0c22a"/><circle cx="1.0" cy="9.3" r="1.1" fill="#e0c22a"/><circle cx="5.7" cy="9.3" r="1.1" fill="#e0c22a"/></svg>
<svg style="left:77.5px;top:690.5px" width="6" height="4" viewBox="0 0 6 4"><path d="M0.6 0.6 L3 3 L5.4 0.6" fill="none" stroke="#4b5580" stroke-width="0.9"/></svg>
<svg style="left:88.9px;top:686.9px" width="10" height="9" viewBox="0 0 10 9" fill="#4b5a8c"><rect x="0" y="0" width="6" height="1.4"/><rect x="0" y="2.5" width="9.3" height="1.4"/><rect x="0" y="5" width="6" height="1.4"/><rect x="0" y="7.5" width="9.3" height="1.4"/></svg>
<div class="lbl" style="left:102.3px;top:680px">User Actions &amp;<br>Context</div>
<svg style="left:205.4px;top:686.2px" width="4" height="12"><circle cx="2" cy="1.9000000000000004" r="1.05" fill="#8a93a8"/><circle cx="2" cy="6.0" r="1.05" fill="#8a93a8"/><circle cx="2" cy="10.1" r="1.05" fill="#8a93a8"/></svg>
<div class="chip" style="left:61.2px;top:719.2px;width:55.6px;background:rgba(255,255,255,.55);opacity:1.0">Jess Miller</div>
<div style="position:absolute;left:64.7px;top:720.7px;opacity:1.0"><svg style="left:0;top:0" width="12" height="12"><defs><clipPath id="cjess120"><circle cx="12" cy="12" r="12"/></clipPath></defs><g transform="scale(0.5)"><g clip-path="url(#cjess120)"><rect width="24" height="24" fill="#a9a8a4"/><rect x="14" width="10" height="24" fill="#d6d4ce"/>
<path d="M7 12 Q6 3 11.5 3 Q17 3 16 12 L15 15 L8 15Z" fill="#5e4c40"/>
<ellipse cx="12" cy="10" rx="3.4" ry="4.4" fill="#dcb7a2"/>
<path d="M3 24 Q4 16.5 9.5 16 L12 17 L14.5 16 Q20 16.5 21 24Z" fill="#262422"/>
<path d="M14 18 Q17 14 19 17 L18 20Z" fill="#dcb7a2"/></g></g></svg></div>
<div class="txc" style="left:228px;top:671px;width:187px;height:84.6px">CFO or Finance Controller recognizes cur-<br>rent manual processes (e.g., expense re-<br>porting, invoice processing) are too slow,<br>error-prone, and costly. Needs a scalable,<br>automated solution.</div>
<div class="txc" style="left:425.0px;top:671px;width:187px;height:84.6px">User searches for 'B2B expense manage-<br>ment software' or 'automated invoicing<br>solutions' on Google, reads industry re-<br>ports, and checks peer recommendations<br>(LinkedIn/Forums).</div>
<div class="txc" style="left:621.14px;top:671px;width:187px;height:84.6px">The finance team compiles a detailed list<br>of mandatory features (e.g., ERP integra-<br>tion, multi-currency support, compliance<br>standards) and prepares the Request for<br>Proposal (RFP) document.</div>
<div class="txc" style="left:817.28px;top:671px;width:187px;height:84.6px">Vendors respond to the RFP. The finance<br>team schedules personalized demos and<br>initiates free trials or sandbox environ-<br>ments for the top 3-5 candidates.</div>
<div class="txc" style="left:1013.42px;top:671px;width:187px;height:84.6px">Key stakeholders (IT, Accounting,<br>Department Heads) review the trial re-<br>sults. Focus is on usability, integration<br>complexity, and departmental fit.<br>Scorecards are used for comparison.</div>
<div class="txc" style="left:1209.56px;top:671px;width:187px;height:84.6px">The IT and Legal teams perform rigorous<br>due diligence on the shortlisted<br>vendor(s), checking SOC 2 reports, data<br>residency, GDPR/CCPA compliance, and<br>API security protocols.</div>
<div class="txc" style="left:1405.6999999999998px;top:671px;width:187px;height:84.6px">The preferred vendor is selected. The<br>procurement team engages in detailed<br>negotiation regarding pricing structure<br>(per user/per transaction), volume dis-<br>counts, and Service Level Agreements<br>(SLAs).</div>
<div class="txc" style="left:1601.84px;top:671px;width:187px;height:84.6px">The final contract draft is reviewed by in-<br>ternal legal counsel. Focus areas include<br>termination clauses, data ownership, lia-<br>bility limits, and payment terms. Redlining<br>is common.</div>
<div class="txc" style="left:1797.98px;top:671px;width:187px;height:84.6px">The contract is signed by the<br>CFO/CEO. A purchase order is gen-<br>erated and sent to the vendor,<br>committing the budget.</div>
<svg style="left:84.8px;top:786.9px" width="10" height="12"><circle cx="1.0" cy="1.0" r="1.1" fill="#e0c22a"/><circle cx="5.6" cy="1.0" r="1.1" fill="#e0c22a"/><circle cx="1.0" cy="5.25" r="1.1" fill="#e0c22a"/><circle cx="5.6" cy="5.25" r="1.1" fill="#e0c22a"/><circle cx="1.0" cy="9.5" r="1.1" fill="#e0c22a"/><circle cx="5.6" cy="9.5" r="1.1" fill="#e0c22a"/></svg>
<svg style="left:99px;top:786.8px" width="10" height="9" viewBox="0 0 10 9" fill="#4b5a8c"><rect x="0" y="0" width="6" height="1.4"/><rect x="0" y="2.5" width="9.3" height="1.4"/><rect x="0" y="5" width="6" height="1.4"/><rect x="0" y="7.5" width="9.3" height="1.4"/></svg>
<div class="lbl" style="left:112.5px;top:785.8px">Action Details</div>
<svg style="left:203.3px;top:785.4px" width="4" height="12"><circle cx="2" cy="1.9000000000000004" r="1.05" fill="#8a93a8"/><circle cx="2" cy="6.0" r="1.05" fill="#8a93a8"/><circle cx="2" cy="10.1" r="1.05" fill="#8a93a8"/></svg>
<div class="chip" style="left:84.2px;top:814px;width:55.6px;background:rgba(255,255,255,.55);opacity:0.7">Jess Miller</div>
<div style="position:absolute;left:87.7px;top:815.5px;opacity:0.7"><svg style="left:0;top:0" width="12" height="12"><defs><clipPath id="cjess120"><circle cx="12" cy="12" r="12"/></clipPath></defs><g transform="scale(0.5)"><g clip-path="url(#cjess120)"><rect width="24" height="24" fill="#a9a8a4"/><rect x="14" width="10" height="24" fill="#d6d4ce"/>
<path d="M7 12 Q6 3 11.5 3 Q17 3 16 12 L15 15 L8 15Z" fill="#5e4c40"/>
<ellipse cx="12" cy="10" rx="3.4" ry="4.4" fill="#dcb7a2"/>
<path d="M3 24 Q4 16.5 9.5 16 L12 17 L14.5 16 Q20 16.5 21 24Z" fill="#262422"/>
<path d="M14 18 Q17 14 19 17 L18 20Z" fill="#dcb7a2"/></g></g></svg></div>
<div class="a" style="left:145px;top:815.3px;width:38px;height:11.4px;border-radius:6px;background:#eee8bf"></div>
<svg style="left:148.3px;top:817.2px" width="7" height="7" viewBox="0 0 7 7"><path d="M1 0.3 V4.2 H6 M4.4 2.6 L6 4.2 L4.4 5.8" fill="none" stroke="#8a8fa8" stroke-width="0.9"/></svg>
<div class="t" style="left:155.8px;top:817px;font-size:6.1px;line-height:8px;color:#8a8fa8">Inherited</div>
<div class="txc" style="left:226px;top:775px;width:187px;height:94px;padding-left:7.4px;padding-top:6.2px">End-user training sessions are conducted<br>across relevant departments. The system<br>goes live, replacing the old manual<br>process. Initial monitoring for bugs and<br>user adoption begins.</div>
<div class="txc" style="left:423.0px;top:775px;width:187px;height:94px;padding-left:7.4px;padding-top:6.2px">End-user training sessions are conducted<br>across relevant departments. The system<br>goes live, replacing the old manual<br>process. Initial monitoring for bugs and<br>user adoption begins.</div>
<div class="add" style="left:619.14px;top:775px;width:187px;height:94px"><svg style="position:static;margin-right:4px" width="7" height="7" viewBox="0 0 7 7" fill="#4b5a8c"><rect x="0" y="0" width="4.2" height="1"/><rect x="0" y="2" width="6.5" height="1"/><rect x="0" y="4" width="4.2" height="1"/><rect x="0" y="6" width="6.5" height="1"/></svg>Add Description</div>
<div class="add" style="left:815.28px;top:775px;width:187px;height:94px"><svg style="position:static;margin-right:4px" width="7" height="7" viewBox="0 0 7 7" fill="#4b5a8c"><rect x="0" y="0" width="4.2" height="1"/><rect x="0" y="2" width="6.5" height="1"/><rect x="0" y="4" width="4.2" height="1"/><rect x="0" y="6" width="6.5" height="1"/></svg>Add Description</div>
<div class="add" style="left:1011.42px;top:775px;width:187px;height:94px"><svg style="position:static;margin-right:4px" width="7" height="7" viewBox="0 0 7 7" fill="#4b5a8c"><rect x="0" y="0" width="4.2" height="1"/><rect x="0" y="2" width="6.5" height="1"/><rect x="0" y="4" width="4.2" height="1"/><rect x="0" y="6" width="6.5" height="1"/></svg>Add Description</div>
<div class="add" style="left:1207.56px;top:775px;width:187px;height:94px"><svg style="position:static;margin-right:4px" width="7" height="7" viewBox="0 0 7 7" fill="#4b5a8c"><rect x="0" y="0" width="4.2" height="1"/><rect x="0" y="2" width="6.5" height="1"/><rect x="0" y="4" width="4.2" height="1"/><rect x="0" y="6" width="6.5" height="1"/></svg>Add Description</div>
<div class="add" style="left:1403.6999999999998px;top:775px;width:187px;height:94px"><svg style="position:static;margin-right:4px" width="7" height="7" viewBox="0 0 7 7" fill="#4b5a8c"><rect x="0" y="0" width="4.2" height="1"/><rect x="0" y="2" width="6.5" height="1"/><rect x="0" y="4" width="4.2" height="1"/><rect x="0" y="6" width="6.5" height="1"/></svg>Add Description</div>
<div class="add" style="left:1599.84px;top:775px;width:187px;height:94px"><svg style="position:static;margin-right:4px" width="7" height="7" viewBox="0 0 7 7" fill="#4b5a8c"><rect x="0" y="0" width="4.2" height="1"/><rect x="0" y="2" width="6.5" height="1"/><rect x="0" y="4" width="4.2" height="1"/><rect x="0" y="6" width="6.5" height="1"/></svg>Add Description</div>
<div class="add" style="left:1795.98px;top:775px;width:187px;height:94px"><svg style="position:static;margin-right:4px" width="7" height="7" viewBox="0 0 7 7" fill="#4b5a8c"><rect x="0" y="0" width="4.2" height="1"/><rect x="0" y="2" width="6.5" height="1"/><rect x="0" y="4" width="4.2" height="1"/><rect x="0" y="6" width="6.5" height="1"/></svg>Add Description</div>
<div class="txc" style="left:228px;top:888px;width:187px;height:40px"></div>
<div class="txc" style="left:425.0px;top:888px;width:187px;height:40px"></div>
<div class="a" style="left:621.14px;top:888px;width:187px;height:40px;border:1px dashed #f5be74;background:#f6dcb6;border-radius:5px"></div>
<div class="a" style="left:817.28px;top:888px;width:187px;height:40px;border:1px dashed #f5be74;background:#f6dcb6;border-radius:5px"></div>
<div class="a" style="left:1013.42px;top:888px;width:187px;height:40px;border:1px dashed #f5be74;background:#f6dcb6;border-radius:5px"></div>
<div class="a" style="left:1209.56px;top:888px;width:187px;height:40px;border:1px dashed #f5be74;background:#f6dcb6;border-radius:5px"></div>
<div class="a" style="left:1405.6999999999998px;top:888px;width:187px;height:40px;border:1px dashed #f5be74;background:#f6dcb6;border-radius:5px"></div>
<div class="a" style="left:1601.84px;top:888px;width:187px;height:40px;border:1px dashed #f5be74;background:#f6dcb6;border-radius:5px"></div>
<div class="a" style="left:1797.98px;top:888px;width:187px;height:40px;border:1px dashed #f5be74;background:#f6dcb6;border-radius:5px"></div>
</div>
<div class="a" style="left:49px;top:894px;width:1809px;height:6px;background:#d9e0ea;border-radius:0 0 3px 3px"></div>
<div class="a" style="left:49px;top:894px;width:1269px;height:6px;background:#a9b5c7;border-radius:3px"></div>
<div class="a" style="left:1867px;top:0;width:1px;height:912px;background:#e6ebf2"></div>
</body></html>
